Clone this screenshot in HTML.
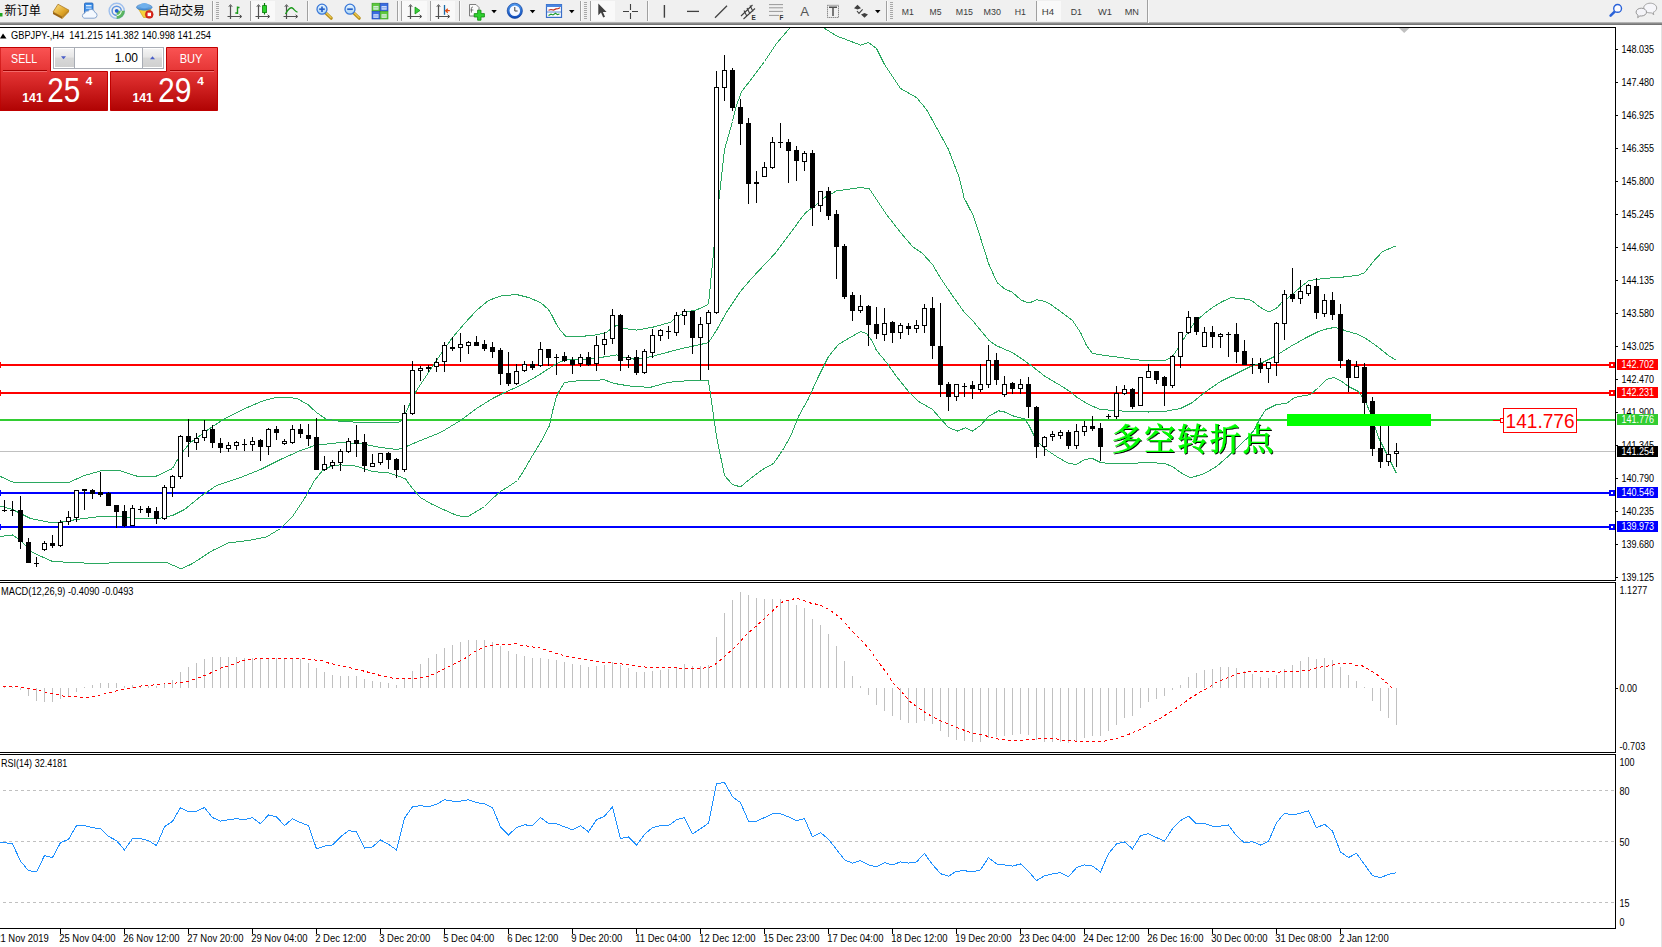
<!DOCTYPE html>
<html><head><meta charset="utf-8"><title>GBPJPY-,H4</title>
<style>
html,body{margin:0;padding:0;background:#fff;}
body{width:1662px;height:947px;position:relative;overflow:hidden;font-family:"Liberation Sans","Noto Sans CJK SC",sans-serif;}
#tb{position:absolute;left:0;top:0;width:1662px;height:22px;background:#f0f0f0;}
#tbl{position:absolute;left:0;top:22px;width:1662px;height:3px;background:linear-gradient(#c8c8c8,#8a8a8a 50%,#6a6a6a);}
</style></head><body>
<div id="tb"><!--TOOLBAR--></div><div id="tbl"></div>
<svg width="1662" height="947" viewBox="0 0 1662 947" style="position:absolute;left:0;top:0" shape-rendering="crispEdges">
<defs><clipPath id="cm"><rect x="0" y="28" width="1615" height="552"/></clipPath></defs>
<rect x="0" y="27" width="1616" height="1" fill="#000"/>
<rect x="0" y="580" width="1616" height="1" fill="#000"/>
<rect x="1615" y="27" width="1" height="554" fill="#000"/>
<rect x="0" y="582" width="1616" height="1" fill="#000"/>
<rect x="0" y="752" width="1616" height="1" fill="#000"/>
<rect x="1615" y="582" width="1" height="171" fill="#000"/>
<rect x="0" y="754" width="1616" height="1" fill="#000"/>
<rect x="0" y="928" width="1616" height="1" fill="#000"/>
<rect x="1615" y="754" width="1" height="175" fill="#000"/>
<g clip-path="url(#cm)">
<rect x="0" y="451" width="1615" height="1" fill="#c0c0c0"/>
<rect x="0" y="364" width="1615" height="2" fill="#ff0000"/>
<rect x="0" y="392" width="1615" height="2" fill="#ff0000"/>
<rect x="0" y="419" width="1615" height="2" fill="#32cd32"/>
<rect x="0" y="492" width="1615" height="2" fill="#0000ff"/>
<rect x="0" y="526" width="1615" height="2" fill="#0000ff"/>
<polyline points="0.5,476.5 12.5,482.0 40.5,482.9 68.5,482.5 84.5,475.5 100.5,470.9 120.5,470.9 136.5,476.0 156.5,476.0 172.5,468.5 180.5,454.5 190.5,442.5 212.5,426.5 225.5,418.3 247.5,407.4 264.0,400.5 275.0,397.8 286.0,397.2 297.0,398.5 307.9,404.5 316.2,412.3 325.8,418.9 338.1,421.0 360.5,422.5 396.5,422.9 402.5,420.5 408.5,406.5 416.5,390.5 428.5,372.5 440.5,354.5 452.5,337.5 464.5,323.5 476.5,310.5 488.5,300.5 500.5,296.1 516.5,294.5 528.5,297.5 540.5,302.5 548.5,309.5 552.5,316.5 556.5,324.5 560.5,330.5 565.5,336.1 580.5,336.5 596.5,334.9 606.5,332.5 612.5,327.5 616.5,325.5 624.5,328.5 636.5,330.1 652.5,327.3 670.5,322.3 676.5,317.3 684.5,312.3 696.5,309.9 708.5,304.5 716.5,221.5 724.5,149.5 732.5,121.5 736.5,105.5 741.5,91.9 752.5,77.5 764.5,61.5 776.5,43.5 788.5,29.5 796.5,21.5 806.5,18.5 816.5,22.5 821.5,26.5 836.5,35.9 860.5,45.1 868.5,42.5 876.5,48.5 884.5,64.5 900.5,88.5 916.5,97.5 926.5,109.5 936.5,127.5 948.5,149.5 958.5,175.5 962.5,190.5 964.0,197.7 973.6,216.4 976.6,225.4 981.5,241.1 988.7,263.9 997.1,282.6 1004.9,289.0 1012.1,292.2 1021.2,300.1 1029.0,303.1 1036.8,299.8 1044.1,301.3 1050.1,304.0 1060.5,311.5 1072.5,320.5 1080.5,332.5 1086.5,345.5 1092.5,353.5 1104.5,355.5 1120.5,357.5 1132.5,359.5 1148.5,360.8 1164.5,360.8 1172.5,356.5 1180.5,344.5 1186.5,334.5 1194.5,322.5 1204.5,313.5 1212.5,307.5 1220.5,302.5 1230.5,297.7 1241.5,298.5 1251.0,300.1 1260.5,307.5 1269.0,312.1 1277.5,307.5 1282.5,301.5 1290.5,296.1 1300.5,287.1 1308.5,280.8 1317.2,279.3 1329.2,278.1 1344.9,276.9 1358.1,275.3 1364.8,272.6 1372.5,262.4 1382.2,251.9 1389.5,248.5 1396.5,245.8" fill="none" stroke="#2aa860" stroke-width="1" />
<polyline points="0.5,506.1 12.5,509.5 30.5,518.5 50.5,522.5 60.5,522.1 80.5,518.9 100.5,516.5 120.5,516.5 136.5,518.5 156.5,518.9 172.5,515.5 184.5,509.5 200.5,496.5 216.5,485.5 240.5,477.5 260.5,469.5 280.5,459.5 300.5,450.5 316.5,444.9 332.5,443.5 340.5,442.5 360.5,443.5 380.5,447.5 396.5,449.5 402.5,448.5 408.5,445.5 420.5,440.5 440.5,432.5 460.5,420.5 476.5,408.5 492.5,398.5 504.5,392.5 520.5,385.5 536.5,376.5 550.5,367.5 560.5,361.5 568.5,359.5 584.5,359.5 600.5,357.5 616.5,354.9 624.5,357.5 636.5,359.5 652.5,356.3 678.5,349.3 708.5,342.7 716.5,330.3 726.5,312.4 740.5,291.4 752.5,277.4 768.5,260.4 775.5,253.0 790.5,233.0 800.5,219.2 806.5,211.8 813.0,207.4 824.5,197.5 836.5,190.9 860.5,187.5 869.5,188.9 876.5,199.5 886.5,214.5 900.5,232.5 912.5,246.5 922.5,253.5 932.5,264.5 940.5,278.0 948.9,290.5 958.0,303.5 964.5,312.5 972.5,320.5 989.1,340.5 996.1,345.5 1012.1,352.5 1024.1,360.5 1032.5,366.5 1044.5,376.0 1060.5,385.5 1070.5,391.8 1076.5,397.0 1088.5,404.5 1100.5,409.5 1114.5,410.5 1128.5,411.5 1148.5,412.0 1164.5,411.5 1180.5,408.5 1192.5,402.5 1204.5,392.5 1220.5,381.5 1236.5,373.5 1250.5,366.5 1262.5,362.5 1274.5,356.5 1290.5,346.5 1306.5,337.5 1318.5,331.5 1326.5,329.0 1334.0,327.5 1338.9,328.3 1346.1,331.0 1356.9,334.0 1365.4,338.3 1374.5,344.5 1378.5,347.5 1388.5,355.5 1396.5,360.5" fill="none" stroke="#2aa860" stroke-width="1" />
<polyline points="0.5,536.5 12.5,534.9 20.5,540.5 32.5,552.5 52.5,561.5 80.5,562.9 100.5,563.5 124.5,562.1 144.5,562.5 166.5,562.5 181.5,568.9 192.5,563.5 212.5,550.5 228.5,542.9 248.5,540.5 266.5,536.9 280.5,528.5 292.5,516.5 304.5,498.5 314.5,480.5 322.5,470.5 332.5,465.5 340.5,464.9 356.5,466.1 372.5,471.5 388.5,472.9 400.5,476.9 405.5,478.9 412.5,488.5 420.5,497.5 430.5,503.5 442.5,509.1 454.5,514.5 460.5,516.1 468.5,516.1 476.5,511.5 484.5,506.5 492.5,498.5 500.5,491.5 508.5,486.5 517.5,480.5 524.5,469.5 532.5,455.5 540.5,442.5 549.5,425.5 552.5,411.5 556.5,396.5 558.5,392.5 564.5,382.5 580.5,380.5 604.5,379.9 614.5,383.5 632.5,386.5 650.5,387.3 668.5,382.3 692.5,380.3 708.5,380.9 716.5,436.5 724.5,475.5 732.5,484.5 740.5,486.9 750.5,478.5 762.5,469.5 773.5,463.5 782.5,450.5 790.5,436.5 798.5,416.5 808.5,398.5 818.5,376.5 828.5,356.5 838.5,344.5 850.5,337.3 860.5,331.7 866.5,333.3 872.5,341.5 876.5,350.5 886.5,362.5 896.5,376.5 908.5,391.5 918.5,401.5 932.5,409.5 940.5,418.5 948.5,427.5 957.5,431.0 965.5,427.8 972.5,431.0 980.5,425.5 988.5,416.5 998.5,410.8 1004.5,412.0 1014.5,416.5 1024.5,418.8 1028.5,424.5 1036.5,440.5 1044.5,448.5 1056.5,456.5 1068.5,463.5 1076.5,464.5 1084.5,459.5 1092.5,458.5 1100.5,462.5 1112.5,463.9 1128.5,463.5 1148.5,462.5 1164.5,463.5 1172.5,466.5 1180.5,472.5 1190.5,477.9 1204.5,473.5 1216.5,466.5 1228.5,456.0 1240.5,444.5 1248.5,437.0 1254.5,429.5 1260.0,418.5 1265.5,410.0 1276.5,404.5 1286.5,403.5 1294.5,397.5 1310.5,394.5 1318.5,387.5 1326.5,379.5 1333.5,377.5 1340.5,380.5 1348.5,386.5 1358.5,391.5 1365.5,401.5 1370.5,413.5 1378.5,437.5 1388.5,457.5 1396.5,473.5" fill="none" stroke="#2aa860" stroke-width="1" />
<rect x="4" y="500" width="1" height="12" fill="#000"/>
<rect x="2" y="510" width="5" height="1" fill="#000"/>
<rect x="12" y="501" width="1" height="15" fill="#000"/>
<rect x="10" y="510" width="5" height="1" fill="#000"/>
<rect x="20" y="496" width="1" height="53" fill="#000"/>
<rect x="18" y="510" width="5" height="32" fill="#000"/>
<rect x="28" y="538" width="1" height="25" fill="#000"/>
<rect x="26" y="542" width="5" height="21" fill="#000"/>
<rect x="36" y="557" width="1" height="10" fill="#000"/>
<rect x="34" y="563" width="5" height="1" fill="#000"/>
<rect x="44" y="541" width="1" height="10" fill="#000"/>
<rect x="42" y="543" width="5" height="7" fill="#000"/>
<rect x="43" y="544" width="3" height="5" fill="#fff"/>
<rect x="52" y="535" width="1" height="13" fill="#000"/>
<rect x="50" y="543" width="5" height="3" fill="#000"/>
<rect x="60" y="520" width="1" height="27" fill="#000"/>
<rect x="58" y="522" width="5" height="24" fill="#000"/>
<rect x="59" y="523" width="3" height="22" fill="#fff"/>
<rect x="68" y="511" width="1" height="14" fill="#000"/>
<rect x="66" y="517" width="5" height="5" fill="#000"/>
<rect x="67" y="518" width="3" height="3" fill="#fff"/>
<rect x="76" y="490" width="1" height="32" fill="#000"/>
<rect x="74" y="490" width="5" height="28" fill="#000"/>
<rect x="75" y="491" width="3" height="26" fill="#fff"/>
<rect x="84" y="489" width="1" height="21" fill="#000"/>
<rect x="82" y="489" width="5" height="2" fill="#000"/>
<rect x="92" y="489" width="1" height="10" fill="#000"/>
<rect x="90" y="490" width="5" height="4" fill="#000"/>
<rect x="100" y="472" width="1" height="25" fill="#000"/>
<rect x="98" y="492" width="5" height="3" fill="#000"/>
<rect x="108" y="492" width="1" height="14" fill="#000"/>
<rect x="106" y="493" width="5" height="13" fill="#000"/>
<rect x="116" y="505" width="1" height="23" fill="#000"/>
<rect x="114" y="505" width="5" height="7" fill="#000"/>
<rect x="124" y="505" width="1" height="22" fill="#000"/>
<rect x="122" y="511" width="5" height="15" fill="#000"/>
<rect x="132" y="505" width="1" height="21" fill="#000"/>
<rect x="130" y="508" width="5" height="18" fill="#000"/>
<rect x="131" y="509" width="3" height="16" fill="#fff"/>
<rect x="140" y="506" width="1" height="7" fill="#000"/>
<rect x="138" y="509" width="5" height="1" fill="#000"/>
<rect x="148" y="506" width="1" height="11" fill="#000"/>
<rect x="146" y="508" width="5" height="5" fill="#000"/>
<rect x="156" y="507" width="1" height="17" fill="#000"/>
<rect x="154" y="511" width="5" height="8" fill="#000"/>
<rect x="164" y="485" width="1" height="35" fill="#000"/>
<rect x="162" y="487" width="5" height="32" fill="#000"/>
<rect x="163" y="488" width="3" height="30" fill="#fff"/>
<rect x="172" y="475" width="1" height="22" fill="#000"/>
<rect x="170" y="476" width="5" height="12" fill="#000"/>
<rect x="171" y="477" width="3" height="10" fill="#fff"/>
<rect x="180" y="435" width="1" height="44" fill="#000"/>
<rect x="178" y="436" width="5" height="41" fill="#000"/>
<rect x="179" y="437" width="3" height="39" fill="#fff"/>
<rect x="188" y="419" width="1" height="38" fill="#000"/>
<rect x="186" y="436" width="5" height="6" fill="#000"/>
<rect x="196" y="433" width="1" height="17" fill="#000"/>
<rect x="194" y="438" width="5" height="5" fill="#000"/>
<rect x="195" y="439" width="3" height="3" fill="#fff"/>
<rect x="204" y="420" width="1" height="21" fill="#000"/>
<rect x="202" y="430" width="5" height="8" fill="#000"/>
<rect x="203" y="431" width="3" height="6" fill="#fff"/>
<rect x="212" y="425" width="1" height="23" fill="#000"/>
<rect x="210" y="429" width="5" height="14" fill="#000"/>
<rect x="220" y="438" width="1" height="15" fill="#000"/>
<rect x="218" y="443" width="5" height="5" fill="#000"/>
<rect x="228" y="442" width="1" height="10" fill="#000"/>
<rect x="226" y="445" width="5" height="4" fill="#000"/>
<rect x="227" y="446" width="3" height="2" fill="#fff"/>
<rect x="236" y="441" width="1" height="9" fill="#000"/>
<rect x="234" y="442" width="5" height="4" fill="#000"/>
<rect x="235" y="443" width="3" height="2" fill="#fff"/>
<rect x="244" y="439" width="1" height="12" fill="#000"/>
<rect x="242" y="444" width="5" height="1" fill="#000"/>
<rect x="252" y="437" width="1" height="14" fill="#000"/>
<rect x="250" y="441" width="5" height="4" fill="#000"/>
<rect x="251" y="442" width="3" height="2" fill="#fff"/>
<rect x="260" y="439" width="1" height="22" fill="#000"/>
<rect x="258" y="440" width="5" height="7" fill="#000"/>
<rect x="268" y="428" width="1" height="27" fill="#000"/>
<rect x="266" y="429" width="5" height="18" fill="#000"/>
<rect x="267" y="430" width="3" height="16" fill="#fff"/>
<rect x="276" y="426" width="1" height="14" fill="#000"/>
<rect x="274" y="429" width="5" height="4" fill="#000"/>
<rect x="284" y="439" width="1" height="6" fill="#000"/>
<rect x="282" y="441" width="5" height="3" fill="#000"/>
<rect x="283" y="442" width="3" height="1" fill="#fff"/>
<rect x="292" y="425" width="1" height="19" fill="#000"/>
<rect x="290" y="429" width="5" height="14" fill="#000"/>
<rect x="291" y="430" width="3" height="12" fill="#fff"/>
<rect x="300" y="424" width="1" height="14" fill="#000"/>
<rect x="298" y="429" width="5" height="5" fill="#000"/>
<rect x="308" y="424" width="1" height="22" fill="#000"/>
<rect x="306" y="435" width="5" height="4" fill="#000"/>
<rect x="316" y="418" width="1" height="52" fill="#000"/>
<rect x="314" y="437" width="5" height="33" fill="#000"/>
<rect x="324" y="456" width="1" height="15" fill="#000"/>
<rect x="322" y="464" width="5" height="6" fill="#000"/>
<rect x="323" y="465" width="3" height="4" fill="#fff"/>
<rect x="332" y="460" width="1" height="9" fill="#000"/>
<rect x="330" y="462" width="5" height="4" fill="#000"/>
<rect x="331" y="463" width="3" height="2" fill="#fff"/>
<rect x="340" y="449" width="1" height="22" fill="#000"/>
<rect x="338" y="451" width="5" height="12" fill="#000"/>
<rect x="339" y="452" width="3" height="10" fill="#fff"/>
<rect x="348" y="438" width="1" height="15" fill="#000"/>
<rect x="346" y="441" width="5" height="11" fill="#000"/>
<rect x="347" y="442" width="3" height="9" fill="#fff"/>
<rect x="356" y="425" width="1" height="32" fill="#000"/>
<rect x="354" y="440" width="5" height="4" fill="#000"/>
<rect x="364" y="434" width="1" height="38" fill="#000"/>
<rect x="362" y="442" width="5" height="24" fill="#000"/>
<rect x="372" y="454" width="1" height="13" fill="#000"/>
<rect x="370" y="463" width="5" height="4" fill="#000"/>
<rect x="371" y="464" width="3" height="2" fill="#fff"/>
<rect x="380" y="453" width="1" height="12" fill="#000"/>
<rect x="378" y="453" width="5" height="10" fill="#000"/>
<rect x="379" y="454" width="3" height="8" fill="#fff"/>
<rect x="388" y="452" width="1" height="17" fill="#000"/>
<rect x="386" y="453" width="5" height="7" fill="#000"/>
<rect x="396" y="458" width="1" height="20" fill="#000"/>
<rect x="394" y="459" width="5" height="11" fill="#000"/>
<rect x="404" y="405" width="1" height="67" fill="#000"/>
<rect x="402" y="413" width="5" height="57" fill="#000"/>
<rect x="403" y="414" width="3" height="55" fill="#fff"/>
<rect x="412" y="361" width="1" height="54" fill="#000"/>
<rect x="410" y="370" width="5" height="44" fill="#000"/>
<rect x="411" y="371" width="3" height="42" fill="#fff"/>
<rect x="420" y="366" width="1" height="15" fill="#000"/>
<rect x="418" y="368" width="5" height="3" fill="#000"/>
<rect x="419" y="369" width="3" height="1" fill="#fff"/>
<rect x="428" y="365" width="1" height="7" fill="#000"/>
<rect x="426" y="367" width="5" height="2" fill="#000"/>
<rect x="436" y="358" width="1" height="14" fill="#000"/>
<rect x="434" y="362" width="5" height="5" fill="#000"/>
<rect x="435" y="363" width="3" height="3" fill="#fff"/>
<rect x="444" y="342" width="1" height="30" fill="#000"/>
<rect x="442" y="345" width="5" height="17" fill="#000"/>
<rect x="443" y="346" width="3" height="15" fill="#fff"/>
<rect x="452" y="337" width="1" height="14" fill="#000"/>
<rect x="450" y="347" width="5" height="2" fill="#000"/>
<rect x="460" y="333" width="1" height="29" fill="#000"/>
<rect x="458" y="344" width="5" height="4" fill="#000"/>
<rect x="459" y="345" width="3" height="2" fill="#fff"/>
<rect x="468" y="341" width="1" height="13" fill="#000"/>
<rect x="466" y="342" width="5" height="4" fill="#000"/>
<rect x="467" y="343" width="3" height="2" fill="#fff"/>
<rect x="476" y="336" width="1" height="9" fill="#000"/>
<rect x="474" y="342" width="5" height="4" fill="#000"/>
<rect x="484" y="340" width="1" height="11" fill="#000"/>
<rect x="482" y="344" width="5" height="5" fill="#000"/>
<rect x="492" y="342" width="1" height="16" fill="#000"/>
<rect x="490" y="347" width="5" height="5" fill="#000"/>
<rect x="500" y="348" width="1" height="37" fill="#000"/>
<rect x="498" y="350" width="5" height="24" fill="#000"/>
<rect x="508" y="352" width="1" height="34" fill="#000"/>
<rect x="506" y="373" width="5" height="11" fill="#000"/>
<rect x="516" y="364" width="1" height="21" fill="#000"/>
<rect x="514" y="371" width="5" height="13" fill="#000"/>
<rect x="515" y="372" width="3" height="11" fill="#fff"/>
<rect x="524" y="361" width="1" height="11" fill="#000"/>
<rect x="522" y="364" width="5" height="7" fill="#000"/>
<rect x="523" y="365" width="3" height="5" fill="#fff"/>
<rect x="532" y="361" width="1" height="9" fill="#000"/>
<rect x="530" y="364" width="5" height="4" fill="#000"/>
<rect x="540" y="342" width="1" height="25" fill="#000"/>
<rect x="538" y="349" width="5" height="17" fill="#000"/>
<rect x="539" y="350" width="3" height="15" fill="#fff"/>
<rect x="548" y="349" width="1" height="17" fill="#000"/>
<rect x="546" y="349" width="5" height="9" fill="#000"/>
<rect x="556" y="354" width="1" height="21" fill="#000"/>
<rect x="554" y="357" width="5" height="1" fill="#000"/>
<rect x="564" y="352" width="1" height="10" fill="#000"/>
<rect x="562" y="356" width="5" height="5" fill="#000"/>
<rect x="572" y="357" width="1" height="17" fill="#000"/>
<rect x="570" y="360" width="5" height="5" fill="#000"/>
<rect x="580" y="354" width="1" height="13" fill="#000"/>
<rect x="578" y="357" width="5" height="7" fill="#000"/>
<rect x="579" y="358" width="3" height="5" fill="#fff"/>
<rect x="588" y="352" width="1" height="14" fill="#000"/>
<rect x="586" y="357" width="5" height="8" fill="#000"/>
<rect x="596" y="336" width="1" height="35" fill="#000"/>
<rect x="594" y="345" width="5" height="19" fill="#000"/>
<rect x="595" y="346" width="3" height="17" fill="#fff"/>
<rect x="604" y="332" width="1" height="23" fill="#000"/>
<rect x="602" y="339" width="5" height="6" fill="#000"/>
<rect x="603" y="340" width="3" height="4" fill="#fff"/>
<rect x="612" y="309" width="1" height="35" fill="#000"/>
<rect x="610" y="315" width="5" height="24" fill="#000"/>
<rect x="611" y="316" width="3" height="22" fill="#fff"/>
<rect x="620" y="314" width="1" height="57" fill="#000"/>
<rect x="618" y="315" width="5" height="46" fill="#000"/>
<rect x="628" y="355" width="1" height="13" fill="#000"/>
<rect x="626" y="357" width="5" height="3" fill="#000"/>
<rect x="627" y="358" width="3" height="1" fill="#fff"/>
<rect x="636" y="350" width="1" height="25" fill="#000"/>
<rect x="634" y="357" width="5" height="16" fill="#000"/>
<rect x="644" y="349" width="1" height="25" fill="#000"/>
<rect x="642" y="351" width="5" height="22" fill="#000"/>
<rect x="643" y="352" width="3" height="20" fill="#fff"/>
<rect x="652" y="329" width="1" height="29" fill="#000"/>
<rect x="650" y="335" width="5" height="18" fill="#000"/>
<rect x="651" y="336" width="3" height="16" fill="#fff"/>
<rect x="660" y="329" width="1" height="12" fill="#000"/>
<rect x="658" y="330" width="5" height="6" fill="#000"/>
<rect x="659" y="331" width="3" height="4" fill="#fff"/>
<rect x="668" y="326" width="1" height="13" fill="#000"/>
<rect x="666" y="331" width="5" height="1" fill="#000"/>
<rect x="676" y="312" width="1" height="24" fill="#000"/>
<rect x="674" y="315" width="5" height="18" fill="#000"/>
<rect x="675" y="316" width="3" height="16" fill="#fff"/>
<rect x="684" y="309" width="1" height="16" fill="#000"/>
<rect x="682" y="311" width="5" height="5" fill="#000"/>
<rect x="683" y="312" width="3" height="3" fill="#fff"/>
<rect x="692" y="311" width="1" height="43" fill="#000"/>
<rect x="690" y="311" width="5" height="27" fill="#000"/>
<rect x="700" y="317" width="1" height="63" fill="#000"/>
<rect x="698" y="324" width="5" height="14" fill="#000"/>
<rect x="699" y="325" width="3" height="12" fill="#fff"/>
<rect x="708" y="310" width="1" height="60" fill="#000"/>
<rect x="706" y="312" width="5" height="12" fill="#000"/>
<rect x="707" y="313" width="3" height="10" fill="#fff"/>
<rect x="716" y="71" width="1" height="243" fill="#000"/>
<rect x="714" y="87" width="5" height="226" fill="#000"/>
<rect x="715" y="88" width="3" height="224" fill="#fff"/>
<rect x="724" y="55" width="1" height="46" fill="#000"/>
<rect x="722" y="70" width="5" height="18" fill="#000"/>
<rect x="723" y="71" width="3" height="16" fill="#fff"/>
<rect x="732" y="68" width="1" height="43" fill="#000"/>
<rect x="730" y="70" width="5" height="38" fill="#000"/>
<rect x="740" y="99" width="1" height="46" fill="#000"/>
<rect x="738" y="107" width="5" height="17" fill="#000"/>
<rect x="748" y="118" width="1" height="86" fill="#000"/>
<rect x="746" y="123" width="5" height="61" fill="#000"/>
<rect x="756" y="171" width="1" height="32" fill="#000"/>
<rect x="754" y="182" width="5" height="2" fill="#000"/>
<rect x="764" y="162" width="1" height="15" fill="#000"/>
<rect x="762" y="167" width="5" height="10" fill="#000"/>
<rect x="763" y="168" width="3" height="8" fill="#fff"/>
<rect x="772" y="137" width="1" height="32" fill="#000"/>
<rect x="770" y="142" width="5" height="26" fill="#000"/>
<rect x="771" y="143" width="3" height="24" fill="#fff"/>
<rect x="780" y="123" width="1" height="25" fill="#000"/>
<rect x="778" y="142" width="5" height="1" fill="#000"/>
<rect x="788" y="139" width="1" height="44" fill="#000"/>
<rect x="786" y="142" width="5" height="9" fill="#000"/>
<rect x="796" y="146" width="1" height="35" fill="#000"/>
<rect x="794" y="150" width="5" height="11" fill="#000"/>
<rect x="804" y="151" width="1" height="20" fill="#000"/>
<rect x="802" y="153" width="5" height="9" fill="#000"/>
<rect x="803" y="154" width="3" height="7" fill="#fff"/>
<rect x="812" y="150" width="1" height="76" fill="#000"/>
<rect x="810" y="153" width="5" height="55" fill="#000"/>
<rect x="820" y="191" width="1" height="21" fill="#000"/>
<rect x="818" y="191" width="5" height="15" fill="#000"/>
<rect x="819" y="192" width="3" height="13" fill="#fff"/>
<rect x="828" y="187" width="1" height="33" fill="#000"/>
<rect x="826" y="191" width="5" height="25" fill="#000"/>
<rect x="836" y="210" width="1" height="69" fill="#000"/>
<rect x="834" y="214" width="5" height="33" fill="#000"/>
<rect x="844" y="244" width="1" height="55" fill="#000"/>
<rect x="842" y="246" width="5" height="51" fill="#000"/>
<rect x="852" y="292" width="1" height="29" fill="#000"/>
<rect x="850" y="295" width="5" height="16" fill="#000"/>
<rect x="860" y="295" width="1" height="18" fill="#000"/>
<rect x="858" y="306" width="5" height="5" fill="#000"/>
<rect x="859" y="307" width="3" height="3" fill="#fff"/>
<rect x="868" y="305" width="1" height="41" fill="#000"/>
<rect x="866" y="306" width="5" height="19" fill="#000"/>
<rect x="876" y="307" width="1" height="32" fill="#000"/>
<rect x="874" y="324" width="5" height="10" fill="#000"/>
<rect x="884" y="308" width="1" height="33" fill="#000"/>
<rect x="882" y="323" width="5" height="12" fill="#000"/>
<rect x="883" y="324" width="3" height="10" fill="#fff"/>
<rect x="892" y="321" width="1" height="22" fill="#000"/>
<rect x="890" y="322" width="5" height="11" fill="#000"/>
<rect x="900" y="323" width="1" height="16" fill="#000"/>
<rect x="898" y="325" width="5" height="8" fill="#000"/>
<rect x="899" y="326" width="3" height="6" fill="#fff"/>
<rect x="908" y="323" width="1" height="12" fill="#000"/>
<rect x="906" y="326" width="5" height="3" fill="#000"/>
<rect x="916" y="320" width="1" height="13" fill="#000"/>
<rect x="914" y="325" width="5" height="4" fill="#000"/>
<rect x="915" y="326" width="3" height="2" fill="#fff"/>
<rect x="924" y="304" width="1" height="29" fill="#000"/>
<rect x="922" y="308" width="5" height="18" fill="#000"/>
<rect x="923" y="309" width="3" height="16" fill="#fff"/>
<rect x="932" y="297" width="1" height="62" fill="#000"/>
<rect x="930" y="308" width="5" height="38" fill="#000"/>
<rect x="940" y="303" width="1" height="94" fill="#000"/>
<rect x="938" y="346" width="5" height="39" fill="#000"/>
<rect x="948" y="382" width="1" height="29" fill="#000"/>
<rect x="946" y="384" width="5" height="13" fill="#000"/>
<rect x="956" y="384" width="1" height="17" fill="#000"/>
<rect x="954" y="384" width="5" height="13" fill="#000"/>
<rect x="955" y="385" width="3" height="11" fill="#fff"/>
<rect x="964" y="383" width="1" height="14" fill="#000"/>
<rect x="962" y="386" width="5" height="1" fill="#000"/>
<rect x="972" y="381" width="1" height="18" fill="#000"/>
<rect x="970" y="385" width="5" height="4" fill="#000"/>
<rect x="980" y="364" width="1" height="28" fill="#000"/>
<rect x="978" y="384" width="5" height="6" fill="#000"/>
<rect x="979" y="385" width="3" height="4" fill="#fff"/>
<rect x="988" y="345" width="1" height="43" fill="#000"/>
<rect x="986" y="360" width="5" height="25" fill="#000"/>
<rect x="987" y="361" width="3" height="23" fill="#fff"/>
<rect x="996" y="353" width="1" height="32" fill="#000"/>
<rect x="994" y="360" width="5" height="20" fill="#000"/>
<rect x="1004" y="376" width="1" height="21" fill="#000"/>
<rect x="1002" y="384" width="5" height="11" fill="#000"/>
<rect x="1003" y="385" width="3" height="9" fill="#fff"/>
<rect x="1012" y="382" width="1" height="12" fill="#000"/>
<rect x="1010" y="383" width="5" height="6" fill="#000"/>
<rect x="1020" y="379" width="1" height="15" fill="#000"/>
<rect x="1018" y="384" width="5" height="5" fill="#000"/>
<rect x="1019" y="385" width="3" height="3" fill="#fff"/>
<rect x="1028" y="377" width="1" height="41" fill="#000"/>
<rect x="1026" y="384" width="5" height="23" fill="#000"/>
<rect x="1036" y="406" width="1" height="52" fill="#000"/>
<rect x="1034" y="407" width="5" height="40" fill="#000"/>
<rect x="1044" y="436" width="1" height="20" fill="#000"/>
<rect x="1042" y="437" width="5" height="10" fill="#000"/>
<rect x="1043" y="438" width="3" height="8" fill="#fff"/>
<rect x="1052" y="431" width="1" height="10" fill="#000"/>
<rect x="1050" y="434" width="5" height="3" fill="#000"/>
<rect x="1051" y="435" width="3" height="1" fill="#fff"/>
<rect x="1060" y="430" width="1" height="9" fill="#000"/>
<rect x="1058" y="432" width="5" height="4" fill="#000"/>
<rect x="1059" y="433" width="3" height="2" fill="#fff"/>
<rect x="1068" y="430" width="1" height="19" fill="#000"/>
<rect x="1066" y="432" width="5" height="14" fill="#000"/>
<rect x="1076" y="424" width="1" height="25" fill="#000"/>
<rect x="1074" y="431" width="5" height="15" fill="#000"/>
<rect x="1075" y="432" width="3" height="13" fill="#fff"/>
<rect x="1084" y="421" width="1" height="15" fill="#000"/>
<rect x="1082" y="426" width="5" height="6" fill="#000"/>
<rect x="1083" y="427" width="3" height="4" fill="#fff"/>
<rect x="1092" y="416" width="1" height="15" fill="#000"/>
<rect x="1090" y="426" width="5" height="3" fill="#000"/>
<rect x="1100" y="423" width="1" height="38" fill="#000"/>
<rect x="1098" y="428" width="5" height="19" fill="#000"/>
<rect x="1108" y="414" width="1" height="5" fill="#000"/>
<rect x="1106" y="416" width="5" height="1" fill="#000"/>
<rect x="1116" y="386" width="1" height="33" fill="#000"/>
<rect x="1114" y="393" width="5" height="24" fill="#000"/>
<rect x="1115" y="394" width="3" height="22" fill="#fff"/>
<rect x="1124" y="385" width="1" height="10" fill="#000"/>
<rect x="1122" y="389" width="5" height="5" fill="#000"/>
<rect x="1123" y="390" width="3" height="3" fill="#fff"/>
<rect x="1132" y="388" width="1" height="21" fill="#000"/>
<rect x="1130" y="389" width="5" height="18" fill="#000"/>
<rect x="1140" y="377" width="1" height="28" fill="#000"/>
<rect x="1138" y="377" width="5" height="29" fill="#000"/>
<rect x="1139" y="378" width="3" height="27" fill="#fff"/>
<rect x="1148" y="364" width="1" height="13" fill="#000"/>
<rect x="1146" y="371" width="5" height="7" fill="#000"/>
<rect x="1147" y="372" width="3" height="5" fill="#fff"/>
<rect x="1156" y="371" width="1" height="13" fill="#000"/>
<rect x="1154" y="371" width="5" height="9" fill="#000"/>
<rect x="1164" y="376" width="1" height="30" fill="#000"/>
<rect x="1162" y="377" width="5" height="9" fill="#000"/>
<rect x="1172" y="355" width="1" height="33" fill="#000"/>
<rect x="1170" y="356" width="5" height="30" fill="#000"/>
<rect x="1171" y="357" width="3" height="28" fill="#fff"/>
<rect x="1180" y="332" width="1" height="36" fill="#000"/>
<rect x="1178" y="332" width="5" height="25" fill="#000"/>
<rect x="1179" y="333" width="3" height="23" fill="#fff"/>
<rect x="1188" y="311" width="1" height="23" fill="#000"/>
<rect x="1186" y="317" width="5" height="16" fill="#000"/>
<rect x="1187" y="318" width="3" height="14" fill="#fff"/>
<rect x="1196" y="317" width="1" height="18" fill="#000"/>
<rect x="1194" y="317" width="5" height="15" fill="#000"/>
<rect x="1204" y="327" width="1" height="19" fill="#000"/>
<rect x="1202" y="332" width="5" height="15" fill="#000"/>
<rect x="1203" y="333" width="3" height="13" fill="#fff"/>
<rect x="1212" y="326" width="1" height="22" fill="#000"/>
<rect x="1210" y="332" width="5" height="5" fill="#000"/>
<rect x="1220" y="333" width="1" height="15" fill="#000"/>
<rect x="1218" y="334" width="5" height="3" fill="#000"/>
<rect x="1219" y="335" width="3" height="1" fill="#fff"/>
<rect x="1228" y="332" width="1" height="25" fill="#000"/>
<rect x="1226" y="334" width="5" height="1" fill="#000"/>
<rect x="1236" y="323" width="1" height="40" fill="#000"/>
<rect x="1234" y="334" width="5" height="18" fill="#000"/>
<rect x="1244" y="340" width="1" height="25" fill="#000"/>
<rect x="1242" y="351" width="5" height="14" fill="#000"/>
<rect x="1252" y="358" width="1" height="16" fill="#000"/>
<rect x="1250" y="364" width="5" height="1" fill="#000"/>
<rect x="1260" y="358" width="1" height="15" fill="#000"/>
<rect x="1258" y="363" width="5" height="6" fill="#000"/>
<rect x="1268" y="362" width="1" height="21" fill="#000"/>
<rect x="1266" y="362" width="5" height="7" fill="#000"/>
<rect x="1267" y="363" width="3" height="5" fill="#fff"/>
<rect x="1276" y="322" width="1" height="54" fill="#000"/>
<rect x="1274" y="323" width="5" height="40" fill="#000"/>
<rect x="1275" y="324" width="3" height="38" fill="#fff"/>
<rect x="1284" y="290" width="1" height="50" fill="#000"/>
<rect x="1282" y="294" width="5" height="30" fill="#000"/>
<rect x="1283" y="295" width="3" height="28" fill="#fff"/>
<rect x="1292" y="268" width="1" height="34" fill="#000"/>
<rect x="1290" y="294" width="5" height="5" fill="#000"/>
<rect x="1300" y="280" width="1" height="24" fill="#000"/>
<rect x="1298" y="291" width="5" height="8" fill="#000"/>
<rect x="1299" y="292" width="3" height="6" fill="#fff"/>
<rect x="1308" y="284" width="1" height="12" fill="#000"/>
<rect x="1306" y="285" width="5" height="9" fill="#000"/>
<rect x="1307" y="286" width="3" height="7" fill="#fff"/>
<rect x="1316" y="278" width="1" height="41" fill="#000"/>
<rect x="1314" y="286" width="5" height="27" fill="#000"/>
<rect x="1324" y="294" width="1" height="23" fill="#000"/>
<rect x="1322" y="300" width="5" height="14" fill="#000"/>
<rect x="1323" y="301" width="3" height="12" fill="#fff"/>
<rect x="1332" y="292" width="1" height="28" fill="#000"/>
<rect x="1330" y="300" width="5" height="15" fill="#000"/>
<rect x="1340" y="304" width="1" height="64" fill="#000"/>
<rect x="1338" y="314" width="5" height="47" fill="#000"/>
<rect x="1348" y="359" width="1" height="33" fill="#000"/>
<rect x="1346" y="360" width="5" height="18" fill="#000"/>
<rect x="1356" y="361" width="1" height="16" fill="#000"/>
<rect x="1354" y="366" width="5" height="12" fill="#000"/>
<rect x="1355" y="367" width="3" height="10" fill="#fff"/>
<rect x="1364" y="363" width="1" height="51" fill="#000"/>
<rect x="1362" y="367" width="5" height="36" fill="#000"/>
<rect x="1372" y="397" width="1" height="59" fill="#000"/>
<rect x="1370" y="401" width="5" height="48" fill="#000"/>
<rect x="1380" y="426" width="1" height="42" fill="#000"/>
<rect x="1378" y="448" width="5" height="14" fill="#000"/>
<rect x="1388" y="426" width="1" height="40" fill="#000"/>
<rect x="1386" y="454" width="5" height="8" fill="#000"/>
<rect x="1387" y="455" width="3" height="6" fill="#fff"/>
<rect x="1396" y="443" width="1" height="24" fill="#000"/>
<rect x="1394" y="451" width="5" height="3" fill="#000"/>
<rect x="1395" y="452" width="3" height="1" fill="#fff"/>
<rect x="1287" y="414" width="144" height="12" fill="#00ff00"/>
</g>
<rect x="1609" y="362" width="6" height="6" fill="#ff0000"/><rect x="1611" y="364" width="2" height="2" fill="#fff"/>
<rect x="0" y="362" width="1" height="6" fill="#ff0000"/>
<rect x="1609" y="390" width="6" height="6" fill="#ff0000"/><rect x="1611" y="392" width="2" height="2" fill="#fff"/>
<rect x="0" y="390" width="1" height="6" fill="#ff0000"/>
<rect x="1609" y="490" width="6" height="6" fill="#0000ff"/><rect x="1611" y="492" width="2" height="2" fill="#fff"/>
<rect x="0" y="490" width="1" height="6" fill="#0000ff"/>
<rect x="1609" y="524" width="6" height="6" fill="#0000ff"/><rect x="1611" y="526" width="2" height="2" fill="#fff"/>
<rect x="0" y="524" width="1" height="6" fill="#0000ff"/>
<rect x="1493" y="420" width="7" height="1" fill="#ff0000"/>
<rect x="1500" y="418" width="4" height="5" fill="#fff" stroke="none"/><rect x="1500.5" y="418.5" width="3" height="4" fill="#fff" stroke="#ff0000"/>
<rect x="1503.5" y="408.5" width="73" height="24" fill="#fff" stroke="#ff0000" stroke-width="1"/>
<polygon points="1399,28 1409.5,28 1404.2,33" fill="#c0c0c0" shape-rendering="auto"/>
<rect x="4" y="687" width="1" height="1" fill="#c0c0c0"/>
<rect x="12" y="687" width="1" height="1" fill="#c0c0c0"/>
<rect x="20" y="688" width="1" height="2" fill="#c0c0c0"/>
<rect x="28" y="688" width="1" height="8" fill="#c0c0c0"/>
<rect x="36" y="688" width="1" height="13" fill="#c0c0c0"/>
<rect x="44" y="688" width="1" height="14" fill="#c0c0c0"/>
<rect x="52" y="688" width="1" height="14" fill="#c0c0c0"/>
<rect x="60" y="688" width="1" height="11" fill="#c0c0c0"/>
<rect x="68" y="688" width="1" height="8" fill="#c0c0c0"/>
<rect x="76" y="688" width="1" height="4" fill="#c0c0c0"/>
<rect x="84" y="687" width="1" height="1" fill="#c0c0c0"/>
<rect x="92" y="685" width="1" height="3" fill="#c0c0c0"/>
<rect x="100" y="683" width="1" height="5" fill="#c0c0c0"/>
<rect x="108" y="683" width="1" height="5" fill="#c0c0c0"/>
<rect x="116" y="683" width="1" height="5" fill="#c0c0c0"/>
<rect x="124" y="686" width="1" height="2" fill="#c0c0c0"/>
<rect x="132" y="685" width="1" height="3" fill="#c0c0c0"/>
<rect x="140" y="686" width="1" height="2" fill="#c0c0c0"/>
<rect x="148" y="686" width="1" height="2" fill="#c0c0c0"/>
<rect x="156" y="686" width="1" height="2" fill="#c0c0c0"/>
<rect x="164" y="683" width="1" height="5" fill="#c0c0c0"/>
<rect x="172" y="680" width="1" height="8" fill="#c0c0c0"/>
<rect x="180" y="672" width="1" height="16" fill="#c0c0c0"/>
<rect x="188" y="667" width="1" height="21" fill="#c0c0c0"/>
<rect x="196" y="663" width="1" height="25" fill="#c0c0c0"/>
<rect x="204" y="659" width="1" height="29" fill="#c0c0c0"/>
<rect x="212" y="657" width="1" height="31" fill="#c0c0c0"/>
<rect x="220" y="657" width="1" height="31" fill="#c0c0c0"/>
<rect x="228" y="657" width="1" height="31" fill="#c0c0c0"/>
<rect x="236" y="657" width="1" height="31" fill="#c0c0c0"/>
<rect x="244" y="658" width="1" height="30" fill="#c0c0c0"/>
<rect x="252" y="658" width="1" height="30" fill="#c0c0c0"/>
<rect x="260" y="658" width="1" height="30" fill="#c0c0c0"/>
<rect x="268" y="658" width="1" height="30" fill="#c0c0c0"/>
<rect x="276" y="658" width="1" height="30" fill="#c0c0c0"/>
<rect x="284" y="658" width="1" height="30" fill="#c0c0c0"/>
<rect x="292" y="658" width="1" height="30" fill="#c0c0c0"/>
<rect x="300" y="659" width="1" height="29" fill="#c0c0c0"/>
<rect x="308" y="663" width="1" height="25" fill="#c0c0c0"/>
<rect x="316" y="668" width="1" height="20" fill="#c0c0c0"/>
<rect x="324" y="672" width="1" height="16" fill="#c0c0c0"/>
<rect x="332" y="675" width="1" height="13" fill="#c0c0c0"/>
<rect x="340" y="676" width="1" height="12" fill="#c0c0c0"/>
<rect x="348" y="676" width="1" height="12" fill="#c0c0c0"/>
<rect x="356" y="676" width="1" height="12" fill="#c0c0c0"/>
<rect x="364" y="679" width="1" height="9" fill="#c0c0c0"/>
<rect x="372" y="681" width="1" height="7" fill="#c0c0c0"/>
<rect x="380" y="682" width="1" height="6" fill="#c0c0c0"/>
<rect x="388" y="683" width="1" height="5" fill="#c0c0c0"/>
<rect x="396" y="685" width="1" height="3" fill="#c0c0c0"/>
<rect x="404" y="679" width="1" height="9" fill="#c0c0c0"/>
<rect x="412" y="671" width="1" height="17" fill="#c0c0c0"/>
<rect x="420" y="664" width="1" height="24" fill="#c0c0c0"/>
<rect x="428" y="658" width="1" height="30" fill="#c0c0c0"/>
<rect x="436" y="654" width="1" height="34" fill="#c0c0c0"/>
<rect x="444" y="648" width="1" height="40" fill="#c0c0c0"/>
<rect x="452" y="645" width="1" height="43" fill="#c0c0c0"/>
<rect x="460" y="642" width="1" height="46" fill="#c0c0c0"/>
<rect x="468" y="640" width="1" height="48" fill="#c0c0c0"/>
<rect x="476" y="640" width="1" height="48" fill="#c0c0c0"/>
<rect x="484" y="640" width="1" height="48" fill="#c0c0c0"/>
<rect x="492" y="642" width="1" height="46" fill="#c0c0c0"/>
<rect x="500" y="646" width="1" height="42" fill="#c0c0c0"/>
<rect x="508" y="651" width="1" height="37" fill="#c0c0c0"/>
<rect x="516" y="654" width="1" height="34" fill="#c0c0c0"/>
<rect x="524" y="656" width="1" height="32" fill="#c0c0c0"/>
<rect x="532" y="658" width="1" height="30" fill="#c0c0c0"/>
<rect x="540" y="658" width="1" height="30" fill="#c0c0c0"/>
<rect x="548" y="659" width="1" height="29" fill="#c0c0c0"/>
<rect x="556" y="660" width="1" height="28" fill="#c0c0c0"/>
<rect x="564" y="662" width="1" height="26" fill="#c0c0c0"/>
<rect x="572" y="664" width="1" height="24" fill="#c0c0c0"/>
<rect x="580" y="665" width="1" height="23" fill="#c0c0c0"/>
<rect x="588" y="667" width="1" height="21" fill="#c0c0c0"/>
<rect x="596" y="666" width="1" height="22" fill="#c0c0c0"/>
<rect x="604" y="665" width="1" height="23" fill="#c0c0c0"/>
<rect x="612" y="662" width="1" height="26" fill="#c0c0c0"/>
<rect x="620" y="665" width="1" height="23" fill="#c0c0c0"/>
<rect x="628" y="668" width="1" height="20" fill="#c0c0c0"/>
<rect x="636" y="672" width="1" height="16" fill="#c0c0c0"/>
<rect x="644" y="672" width="1" height="16" fill="#c0c0c0"/>
<rect x="652" y="671" width="1" height="17" fill="#c0c0c0"/>
<rect x="660" y="670" width="1" height="18" fill="#c0c0c0"/>
<rect x="668" y="669" width="1" height="19" fill="#c0c0c0"/>
<rect x="676" y="667" width="1" height="21" fill="#c0c0c0"/>
<rect x="684" y="664" width="1" height="24" fill="#c0c0c0"/>
<rect x="692" y="666" width="1" height="22" fill="#c0c0c0"/>
<rect x="700" y="666" width="1" height="22" fill="#c0c0c0"/>
<rect x="708" y="665" width="1" height="23" fill="#c0c0c0"/>
<rect x="716" y="637" width="1" height="51" fill="#c0c0c0"/>
<rect x="724" y="613" width="1" height="75" fill="#c0c0c0"/>
<rect x="732" y="600" width="1" height="88" fill="#c0c0c0"/>
<rect x="740" y="592" width="1" height="96" fill="#c0c0c0"/>
<rect x="748" y="595" width="1" height="93" fill="#c0c0c0"/>
<rect x="756" y="598" width="1" height="90" fill="#c0c0c0"/>
<rect x="764" y="599" width="1" height="89" fill="#c0c0c0"/>
<rect x="772" y="599" width="1" height="89" fill="#c0c0c0"/>
<rect x="780" y="599" width="1" height="89" fill="#c0c0c0"/>
<rect x="788" y="601" width="1" height="87" fill="#c0c0c0"/>
<rect x="796" y="605" width="1" height="83" fill="#c0c0c0"/>
<rect x="804" y="608" width="1" height="80" fill="#c0c0c0"/>
<rect x="812" y="619" width="1" height="69" fill="#c0c0c0"/>
<rect x="820" y="625" width="1" height="63" fill="#c0c0c0"/>
<rect x="828" y="634" width="1" height="54" fill="#c0c0c0"/>
<rect x="836" y="646" width="1" height="42" fill="#c0c0c0"/>
<rect x="844" y="661" width="1" height="27" fill="#c0c0c0"/>
<rect x="852" y="676" width="1" height="12" fill="#c0c0c0"/>
<rect x="860" y="686" width="1" height="2" fill="#c0c0c0"/>
<rect x="868" y="688" width="1" height="7" fill="#c0c0c0"/>
<rect x="876" y="688" width="1" height="17" fill="#c0c0c0"/>
<rect x="884" y="688" width="1" height="23" fill="#c0c0c0"/>
<rect x="892" y="688" width="1" height="28" fill="#c0c0c0"/>
<rect x="900" y="688" width="1" height="32" fill="#c0c0c0"/>
<rect x="908" y="688" width="1" height="35" fill="#c0c0c0"/>
<rect x="916" y="688" width="1" height="35" fill="#c0c0c0"/>
<rect x="924" y="688" width="1" height="33" fill="#c0c0c0"/>
<rect x="932" y="688" width="1" height="36" fill="#c0c0c0"/>
<rect x="940" y="688" width="1" height="43" fill="#c0c0c0"/>
<rect x="948" y="688" width="1" height="49" fill="#c0c0c0"/>
<rect x="956" y="688" width="1" height="52" fill="#c0c0c0"/>
<rect x="964" y="688" width="1" height="53" fill="#c0c0c0"/>
<rect x="972" y="688" width="1" height="54" fill="#c0c0c0"/>
<rect x="980" y="688" width="1" height="54" fill="#c0c0c0"/>
<rect x="988" y="688" width="1" height="50" fill="#c0c0c0"/>
<rect x="996" y="688" width="1" height="49" fill="#c0c0c0"/>
<rect x="1004" y="688" width="1" height="48" fill="#c0c0c0"/>
<rect x="1012" y="688" width="1" height="47" fill="#c0c0c0"/>
<rect x="1020" y="688" width="1" height="46" fill="#c0c0c0"/>
<rect x="1028" y="688" width="1" height="47" fill="#c0c0c0"/>
<rect x="1036" y="688" width="1" height="52" fill="#c0c0c0"/>
<rect x="1044" y="688" width="1" height="54" fill="#c0c0c0"/>
<rect x="1052" y="688" width="1" height="54" fill="#c0c0c0"/>
<rect x="1060" y="688" width="1" height="54" fill="#c0c0c0"/>
<rect x="1068" y="688" width="1" height="55" fill="#c0c0c0"/>
<rect x="1076" y="688" width="1" height="53" fill="#c0c0c0"/>
<rect x="1084" y="688" width="1" height="50" fill="#c0c0c0"/>
<rect x="1092" y="688" width="1" height="48" fill="#c0c0c0"/>
<rect x="1100" y="688" width="1" height="48" fill="#c0c0c0"/>
<rect x="1108" y="688" width="1" height="43" fill="#c0c0c0"/>
<rect x="1116" y="688" width="1" height="37" fill="#c0c0c0"/>
<rect x="1124" y="688" width="1" height="30" fill="#c0c0c0"/>
<rect x="1132" y="688" width="1" height="28" fill="#c0c0c0"/>
<rect x="1140" y="688" width="1" height="20" fill="#c0c0c0"/>
<rect x="1148" y="688" width="1" height="14" fill="#c0c0c0"/>
<rect x="1156" y="688" width="1" height="11" fill="#c0c0c0"/>
<rect x="1164" y="688" width="1" height="8" fill="#c0c0c0"/>
<rect x="1172" y="688" width="1" height="2" fill="#c0c0c0"/>
<rect x="1180" y="685" width="1" height="3" fill="#c0c0c0"/>
<rect x="1188" y="677" width="1" height="11" fill="#c0c0c0"/>
<rect x="1196" y="673" width="1" height="15" fill="#c0c0c0"/>
<rect x="1204" y="670" width="1" height="18" fill="#c0c0c0"/>
<rect x="1212" y="669" width="1" height="19" fill="#c0c0c0"/>
<rect x="1220" y="667" width="1" height="21" fill="#c0c0c0"/>
<rect x="1228" y="667" width="1" height="21" fill="#c0c0c0"/>
<rect x="1236" y="668" width="1" height="20" fill="#c0c0c0"/>
<rect x="1244" y="671" width="1" height="17" fill="#c0c0c0"/>
<rect x="1252" y="674" width="1" height="14" fill="#c0c0c0"/>
<rect x="1260" y="677" width="1" height="11" fill="#c0c0c0"/>
<rect x="1268" y="678" width="1" height="10" fill="#c0c0c0"/>
<rect x="1276" y="675" width="1" height="13" fill="#c0c0c0"/>
<rect x="1284" y="669" width="1" height="19" fill="#c0c0c0"/>
<rect x="1292" y="665" width="1" height="23" fill="#c0c0c0"/>
<rect x="1300" y="661" width="1" height="27" fill="#c0c0c0"/>
<rect x="1308" y="657" width="1" height="31" fill="#c0c0c0"/>
<rect x="1316" y="659" width="1" height="29" fill="#c0c0c0"/>
<rect x="1324" y="658" width="1" height="30" fill="#c0c0c0"/>
<rect x="1332" y="660" width="1" height="28" fill="#c0c0c0"/>
<rect x="1340" y="667" width="1" height="21" fill="#c0c0c0"/>
<rect x="1348" y="675" width="1" height="13" fill="#c0c0c0"/>
<rect x="1356" y="681" width="1" height="7" fill="#c0c0c0"/>
<rect x="1364" y="687" width="1" height="1" fill="#c0c0c0"/>
<rect x="1372" y="688" width="1" height="13" fill="#c0c0c0"/>
<rect x="1380" y="688" width="1" height="23" fill="#c0c0c0"/>
<rect x="1388" y="688" width="1" height="30" fill="#c0c0c0"/>
<rect x="1396" y="688" width="1" height="37" fill="#c0c0c0"/>
<polyline points="3.0,686.4 15.5,686.4 25.5,687.9 35.5,689.7 46.0,692.2 56.1,694.2 66.2,696.8 76.3,696.8 83.9,697.8 91.5,696.8 101.5,694.7 111.5,692.2 121.5,689.7 131.5,687.7 142.0,685.9 152.1,685.1 162.2,684.1 172.3,683.4 187.5,681.6 197.5,678.3 207.5,674.5 220.5,668.2 233.0,664.4 243.1,660.6 253.2,659.4 260.5,658.1 286.1,658.1 303.5,658.9 321.5,660.6 329.0,663.2 339.1,665.2 349.2,667.5 359.4,670.0 369.5,672.5 379.5,675.3 389.5,677.6 399.5,679.1 413.0,678.6 429.3,676.1 438.0,671.9 453.1,664.3 465.5,658.1 475.5,651.1 485.5,646.8 500.5,644.3 518.1,643.8 520.5,645.1 540.5,648.1 555.5,653.1 570.5,657.3 585.5,659.3 605.5,662.6 615.5,663.1 633.3,665.6 650.5,667.6 675.5,667.6 685.5,668.9 700.5,668.6 710.5,666.9 717.1,663.1 725.5,655.6 735.5,646.8 745.5,635.5 755.5,626.8 765.5,617.5 775.5,608.0 783.5,601.0 796.0,598.5 801.0,599.3 810.5,603.0 820.5,605.0 830.5,610.5 840.5,618.0 850.5,629.3 860.5,639.3 870.5,650.5 878.1,661.8 886.9,673.1 893.1,683.1 900.5,690.5 910.5,701.9 920.5,709.4 930.5,715.7 943.2,721.9 955.5,726.9 970.5,732.7 985.5,735.7 995.5,738.7 1013.3,740.7 1025.5,739.9 1038.3,738.7 1055.5,738.7 1065.5,740.7 1080.5,741.2 1100.5,741.9 1115.5,738.7 1125.5,735.7 1140.5,729.4 1150.5,723.2 1160.5,718.2 1170.5,711.9 1180.5,705.5 1190.5,698.1 1200.5,691.9 1208.0,688.1 1215.5,682.6 1225.5,678.6 1235.5,674.4 1248.1,671.4 1273.1,671.1 1278.1,672.1 1290.5,671.4 1308.1,670.6 1318.1,667.4 1330.5,665.6 1340.5,663.6 1350.5,663.1 1355.5,665.1 1363.2,666.1 1370.5,670.6 1375.5,673.1 1385.5,681.9 1394.5,690.1" fill="none" stroke="#ff0000" stroke-width="1" stroke-dasharray="3 3"/>
<line x1="3" x2="1615" y1="790.5" y2="790.5" stroke="#c0c0c0" stroke-dasharray="3 3"/>
<line x1="3" x2="1615" y1="841.5" y2="841.5" stroke="#c0c0c0" stroke-dasharray="3 3"/>
<line x1="3" x2="1615" y1="902.5" y2="902.5" stroke="#c0c0c0" stroke-dasharray="3 3"/>
<polyline points="-3.5,842.3 4.5,842.6 12.5,843.9 20.5,861.1 28.5,870.7 36.5,871.9 44.5,855.6 52.5,857.6 60.5,842.6 68.5,839.4 76.5,825.6 84.5,825.6 92.5,827.6 100.5,828.8 108.5,836.4 116.5,840.6 124.5,849.9 132.5,838.6 140.5,838.6 148.5,840.6 156.5,845.6 164.5,826.8 172.5,821.3 180.5,807.6 188.5,811.8 196.5,811.1 204.5,807.6 212.5,817.6 220.5,821.1 228.5,819.8 236.5,818.6 244.5,819.8 252.5,817.6 260.5,823.8 268.5,814.8 276.5,816.8 284.5,825.6 292.5,818.6 300.5,822.6 308.5,825.6 316.5,848.9 324.5,846.1 332.5,844.9 340.5,836.9 348.5,830.6 356.5,831.9 364.5,848.1 372.5,846.9 380.5,839.9 388.5,844.4 396.5,849.9 404.5,818.1 412.5,806.8 420.5,805.6 428.5,806.8 436.5,804.3 444.5,799.8 452.5,801.1 460.5,801.1 468.5,799.8 476.5,802.6 484.5,803.8 492.5,807.6 500.5,826.8 508.5,834.9 516.5,827.6 524.5,824.8 532.5,825.6 540.5,817.6 548.5,823.6 556.5,823.8 564.5,826.8 572.5,829.8 580.5,825.6 588.5,831.9 596.5,819.8 604.5,816.3 612.5,806.8 620.5,838.6 628.5,836.9 636.5,845.1 644.5,834.4 652.5,827.6 660.5,825.6 668.5,825.6 676.5,819.8 684.5,817.6 692.5,833.9 700.5,828.8 708.5,823.1 716.5,783.8 724.5,782.5 732.5,796.8 740.5,802.6 748.5,821.1 756.5,821.1 764.5,817.6 772.5,813.8 780.5,813.8 788.5,816.8 796.5,820.6 804.5,818.6 812.5,836.9 820.5,832.6 828.5,839.4 836.5,849.4 844.5,859.9 852.5,863.1 860.5,860.6 868.5,864.9 876.5,866.9 884.5,862.6 892.5,864.9 900.5,861.9 908.5,863.1 916.5,861.9 924.5,853.6 932.5,864.4 940.5,873.7 948.5,876.2 956.5,871.2 964.5,870.7 972.5,871.9 980.5,869.9 988.5,857.6 996.5,863.9 1004.5,864.9 1012.5,866.1 1020.5,863.9 1028.5,871.2 1036.5,880.7 1044.5,875.7 1052.5,873.9 1060.5,872.7 1068.5,876.9 1076.5,867.6 1084.5,864.9 1092.5,866.1 1100.5,871.9 1108.5,853.6 1116.5,843.9 1124.5,841.9 1132.5,848.9 1140.5,835.6 1148.5,833.6 1156.5,837.6 1164.5,841.1 1172.5,828.8 1180.5,820.6 1188.5,816.1 1196.5,823.8 1204.5,823.6 1212.5,826.1 1220.5,826.1 1228.5,825.0 1236.5,835.8 1244.5,842.8 1252.5,841.7 1260.5,845.0 1268.5,841.4 1276.5,822.8 1284.5,813.1 1292.5,815.0 1300.5,813.1 1308.5,810.8 1316.5,827.8 1324.5,824.2 1332.5,831.1 1340.5,852.0 1348.5,857.5 1356.5,853.4 1364.5,864.5 1372.5,875.6 1380.5,877.8 1388.5,874.2 1396.5,872.8" fill="none" stroke="#1e90ff" stroke-width="1" />
<g font-family="Liberation Sans, sans-serif" font-size="10.4" fill="#000" shape-rendering="auto">
<rect x="1616" y="49" width="2" height="1" fill="#000"/>
<text x="1621.4" y="53.1" textLength="32.59" lengthAdjust="spacingAndGlyphs" xml:space="preserve" >148.035</text>
<rect x="1616" y="82" width="2" height="1" fill="#000"/>
<text x="1621.4" y="86.1" textLength="32.59" lengthAdjust="spacingAndGlyphs" xml:space="preserve" >147.480</text>
<rect x="1616" y="115" width="2" height="1" fill="#000"/>
<text x="1621.4" y="119.1" textLength="32.59" lengthAdjust="spacingAndGlyphs" xml:space="preserve" >146.925</text>
<rect x="1616" y="148" width="2" height="1" fill="#000"/>
<text x="1621.4" y="152.1" textLength="32.59" lengthAdjust="spacingAndGlyphs" xml:space="preserve" >146.355</text>
<rect x="1616" y="181" width="2" height="1" fill="#000"/>
<text x="1621.4" y="185.1" textLength="32.59" lengthAdjust="spacingAndGlyphs" xml:space="preserve" >145.800</text>
<rect x="1616" y="214" width="2" height="1" fill="#000"/>
<text x="1621.4" y="218.1" textLength="32.59" lengthAdjust="spacingAndGlyphs" xml:space="preserve" >145.245</text>
<rect x="1616" y="247" width="2" height="1" fill="#000"/>
<text x="1621.4" y="251.1" textLength="32.59" lengthAdjust="spacingAndGlyphs" xml:space="preserve" >144.690</text>
<rect x="1616" y="280" width="2" height="1" fill="#000"/>
<text x="1621.4" y="284.1" textLength="32.59" lengthAdjust="spacingAndGlyphs" xml:space="preserve" >144.135</text>
<rect x="1616" y="313" width="2" height="1" fill="#000"/>
<text x="1621.4" y="317.1" textLength="32.59" lengthAdjust="spacingAndGlyphs" xml:space="preserve" >143.580</text>
<rect x="1616" y="346" width="2" height="1" fill="#000"/>
<text x="1621.4" y="350.1" textLength="32.59" lengthAdjust="spacingAndGlyphs" xml:space="preserve" >143.025</text>
<rect x="1616" y="379" width="2" height="1" fill="#000"/>
<text x="1621.4" y="383.1" textLength="32.59" lengthAdjust="spacingAndGlyphs" xml:space="preserve" >142.470</text>
<rect x="1616" y="412" width="2" height="1" fill="#000"/>
<text x="1621.4" y="416.1" textLength="32.59" lengthAdjust="spacingAndGlyphs" xml:space="preserve" >141.900</text>
<rect x="1616" y="445" width="2" height="1" fill="#000"/>
<text x="1621.4" y="449.1" textLength="32.59" lengthAdjust="spacingAndGlyphs" xml:space="preserve" >141.345</text>
<rect x="1616" y="478" width="2" height="1" fill="#000"/>
<text x="1621.4" y="482.1" textLength="32.59" lengthAdjust="spacingAndGlyphs" xml:space="preserve" >140.790</text>
<rect x="1616" y="511" width="2" height="1" fill="#000"/>
<text x="1621.4" y="515.1" textLength="32.59" lengthAdjust="spacingAndGlyphs" xml:space="preserve" >140.235</text>
<rect x="1616" y="544" width="2" height="1" fill="#000"/>
<text x="1621.4" y="548.1" textLength="32.59" lengthAdjust="spacingAndGlyphs" xml:space="preserve" >139.680</text>
<rect x="1616" y="577" width="2" height="1" fill="#000"/>
<text x="1621.4" y="581.1" textLength="32.59" lengthAdjust="spacingAndGlyphs" xml:space="preserve" >139.125</text>
<text x="1619.6" y="594" textLength="27.58" lengthAdjust="spacingAndGlyphs" xml:space="preserve" >1.1277</text>
<rect x="1616" y="688" width="2" height="1" fill="#000"/>
<text x="1619.6" y="691.9" textLength="17.55" lengthAdjust="spacingAndGlyphs" xml:space="preserve" >0.00</text>
<text x="1619.6" y="749.9" textLength="25.57" lengthAdjust="spacingAndGlyphs" xml:space="preserve" >-0.703</text>
<text x="1619.6" y="765.9" textLength="15.04" lengthAdjust="spacingAndGlyphs" xml:space="preserve" >100</text>
<text x="1619.6" y="794.9" textLength="10.03" lengthAdjust="spacingAndGlyphs" xml:space="preserve" >80</text>
<text x="1619.6" y="845.9" textLength="10.03" lengthAdjust="spacingAndGlyphs" xml:space="preserve" >50</text>
<text x="1619.6" y="906.9" textLength="10.03" lengthAdjust="spacingAndGlyphs" xml:space="preserve" >15</text>
<text x="1619.6" y="925.9" textLength="5.01" lengthAdjust="spacingAndGlyphs" xml:space="preserve" >0</text>
<text x="1" y="594.9" textLength="132.50" lengthAdjust="spacingAndGlyphs" xml:space="preserve" >MACD(12,26,9) -0.4090 -0.0493</text>
<text x="1" y="766.9" textLength="66.30" lengthAdjust="spacingAndGlyphs" xml:space="preserve" >RSI(14) 32.4181</text>
<text x="11" y="39.4" textLength="200.00" lengthAdjust="spacingAndGlyphs" xml:space="preserve" >GBPJPY-,H4  141.215 141.382 140.998 141.254</text>
<text x="-4.8" y="941.6" textLength="53.67" lengthAdjust="spacingAndGlyphs" xml:space="preserve" >21 Nov 2019</text>
<rect x="60" y="929" width="1" height="5" fill="#000"/>
<text x="59.2" y="941.6" textLength="56.30" lengthAdjust="spacingAndGlyphs" xml:space="preserve" >25 Nov 04:00</text>
<rect x="124" y="929" width="1" height="5" fill="#000"/>
<text x="123.2" y="941.6" textLength="56.30" lengthAdjust="spacingAndGlyphs" xml:space="preserve" >26 Nov 12:00</text>
<rect x="188" y="929" width="1" height="5" fill="#000"/>
<text x="187.2" y="941.6" textLength="56.30" lengthAdjust="spacingAndGlyphs" xml:space="preserve" >27 Nov 20:00</text>
<rect x="252" y="929" width="1" height="5" fill="#000"/>
<text x="251.2" y="941.6" textLength="56.30" lengthAdjust="spacingAndGlyphs" xml:space="preserve" >29 Nov 04:00</text>
<rect x="316" y="929" width="1" height="5" fill="#000"/>
<text x="315.2" y="941.6" textLength="51.04" lengthAdjust="spacingAndGlyphs" xml:space="preserve" >2 Dec 12:00</text>
<rect x="380" y="929" width="1" height="5" fill="#000"/>
<text x="379.2" y="941.6" textLength="51.04" lengthAdjust="spacingAndGlyphs" xml:space="preserve" >3 Dec 20:00</text>
<rect x="444" y="929" width="1" height="5" fill="#000"/>
<text x="443.2" y="941.6" textLength="51.04" lengthAdjust="spacingAndGlyphs" xml:space="preserve" >5 Dec 04:00</text>
<rect x="508" y="929" width="1" height="5" fill="#000"/>
<text x="507.2" y="941.6" textLength="51.04" lengthAdjust="spacingAndGlyphs" xml:space="preserve" >6 Dec 12:00</text>
<rect x="572" y="929" width="1" height="5" fill="#000"/>
<text x="571.2" y="941.6" textLength="51.04" lengthAdjust="spacingAndGlyphs" xml:space="preserve" >9 Dec 20:00</text>
<rect x="636" y="929" width="1" height="5" fill="#000"/>
<text x="635.2" y="941.6" textLength="55.60" lengthAdjust="spacingAndGlyphs" xml:space="preserve" >11 Dec 04:00</text>
<rect x="700" y="929" width="1" height="5" fill="#000"/>
<text x="699.2" y="941.6" textLength="56.30" lengthAdjust="spacingAndGlyphs" xml:space="preserve" >12 Dec 12:00</text>
<rect x="764" y="929" width="1" height="5" fill="#000"/>
<text x="763.2" y="941.6" textLength="56.30" lengthAdjust="spacingAndGlyphs" xml:space="preserve" >15 Dec 23:00</text>
<rect x="828" y="929" width="1" height="5" fill="#000"/>
<text x="827.2" y="941.6" textLength="56.30" lengthAdjust="spacingAndGlyphs" xml:space="preserve" >17 Dec 04:00</text>
<rect x="892" y="929" width="1" height="5" fill="#000"/>
<text x="891.2" y="941.6" textLength="56.30" lengthAdjust="spacingAndGlyphs" xml:space="preserve" >18 Dec 12:00</text>
<rect x="956" y="929" width="1" height="5" fill="#000"/>
<text x="955.2" y="941.6" textLength="56.30" lengthAdjust="spacingAndGlyphs" xml:space="preserve" >19 Dec 20:00</text>
<rect x="1020" y="929" width="1" height="5" fill="#000"/>
<text x="1019.2" y="941.6" textLength="56.30" lengthAdjust="spacingAndGlyphs" xml:space="preserve" >23 Dec 04:00</text>
<rect x="1084" y="929" width="1" height="5" fill="#000"/>
<text x="1083.2" y="941.6" textLength="56.30" lengthAdjust="spacingAndGlyphs" xml:space="preserve" >24 Dec 12:00</text>
<rect x="1148" y="929" width="1" height="5" fill="#000"/>
<text x="1147.2" y="941.6" textLength="56.30" lengthAdjust="spacingAndGlyphs" xml:space="preserve" >26 Dec 16:00</text>
<rect x="1212" y="929" width="1" height="5" fill="#000"/>
<text x="1211.2" y="941.6" textLength="56.30" lengthAdjust="spacingAndGlyphs" xml:space="preserve" >30 Dec 00:00</text>
<rect x="1276" y="929" width="1" height="5" fill="#000"/>
<text x="1275.2" y="941.6" textLength="56.30" lengthAdjust="spacingAndGlyphs" xml:space="preserve" >31 Dec 08:00</text>
<rect x="1340" y="929" width="1" height="5" fill="#000"/>
<text x="1339.2" y="941.6" textLength="49.46" lengthAdjust="spacingAndGlyphs" xml:space="preserve" >2 Jan 12:00</text>
</g>
<rect x="1617" y="359" width="41" height="11" fill="#ff0000"/>
<text x="1621.4" y="368.4" textLength="32.59" lengthAdjust="spacingAndGlyphs" xml:space="preserve" font-family="Liberation Sans, sans-serif" font-size="10.4" fill="#fff" shape-rendering="auto">142.702</text>
<rect x="1617" y="387" width="41" height="11" fill="#ff0000"/>
<text x="1621.4" y="396.4" textLength="32.59" lengthAdjust="spacingAndGlyphs" xml:space="preserve" font-family="Liberation Sans, sans-serif" font-size="10.4" fill="#fff" shape-rendering="auto">142.231</text>
<rect x="1617" y="414" width="41" height="11" fill="#32cd32"/>
<text x="1621.4" y="423.4" textLength="32.59" lengthAdjust="spacingAndGlyphs" xml:space="preserve" font-family="Liberation Sans, sans-serif" font-size="10.4" fill="#fff" shape-rendering="auto">141.776</text>
<rect x="1617" y="446" width="41" height="11" fill="#000000"/>
<text x="1621.4" y="455.4" textLength="32.59" lengthAdjust="spacingAndGlyphs" xml:space="preserve" font-family="Liberation Sans, sans-serif" font-size="10.4" fill="#fff" shape-rendering="auto">141.254</text>
<rect x="1617" y="487" width="41" height="11" fill="#0000ff"/>
<text x="1621.4" y="496.4" textLength="32.59" lengthAdjust="spacingAndGlyphs" xml:space="preserve" font-family="Liberation Sans, sans-serif" font-size="10.4" fill="#fff" shape-rendering="auto">140.546</text>
<rect x="1617" y="521" width="41" height="11" fill="#0000ff"/>
<text x="1621.4" y="530.4" textLength="32.59" lengthAdjust="spacingAndGlyphs" xml:space="preserve" font-family="Liberation Sans, sans-serif" font-size="10.4" fill="#fff" shape-rendering="auto">139.973</text>
<text x="1505.6" y="428" font-family="Liberation Sans, sans-serif" font-size="20.4" textLength="69" lengthAdjust="spacingAndGlyphs" fill="#ff0000" shape-rendering="auto">141.776</text>
<defs><filter id="sh" x="-5%" y="-10%" width="110%" height="125%"><feOffset in="SourceAlpha" dx="1" dy="1" result="o"/><feFlood flood-color="#000"/><feComposite in2="o" operator="in" result="s"/><feMerge><feMergeNode in="s"/><feMergeNode in="SourceGraphic"/></feMerge></filter></defs>
<text x="1111.4" y="449.6" font-family="Liberation Serif, Noto Serif CJK SC, serif" font-weight="500" font-size="31" shape-rendering="auto" stroke-width="0.3" stroke-linejoin="round" fill="#00ff00" stroke="#00ff00" textLength="162" lengthAdjust="spacing" filter="url(#sh)">多空转折点</text>
<polygon points="0,38.5 3,33.5 6.5,38.5" fill="#000" shape-rendering="auto"/>
<rect x="1661" y="25" width="1" height="922" fill="#e3e3e3"/>
<g shape-rendering="auto">
<defs>
<linearGradient id="gold" x1="0" y1="0" x2="1" y2="1"><stop offset="0" stop-color="#fbe38a"/><stop offset="0.6" stop-color="#e0a72a"/><stop offset="1" stop-color="#b87a10"/></linearGradient>
<linearGradient id="lens" x1="0" y1="0" x2="0" y2="1"><stop offset="0" stop-color="#eaf6ff"/><stop offset="1" stop-color="#a9d4f5"/></linearGradient>
<linearGradient id="clk" x1="0" y1="0" x2="0" y2="1"><stop offset="0" stop-color="#4f9af0"/><stop offset="1" stop-color="#0d49b8"/></linearGradient>
<linearGradient id="hat" x1="0" y1="0" x2="0" y2="1"><stop offset="0" stop-color="#8ec4f2"/><stop offset="1" stop-color="#3f86d0"/></linearGradient>
<linearGradient id="grn" x1="0" y1="0" x2="0" y2="1"><stop offset="0" stop-color="#7be07b"/><stop offset="1" stop-color="#159a15"/></linearGradient>
<linearGradient id="sellg" x1="0" y1="0" x2="0" y2="1"><stop offset="0" stop-color="#fa5353"/><stop offset="0.38" stop-color="#e53535"/><stop offset="1" stop-color="#b00303"/></linearGradient>
<linearGradient id="btn" x1="0" y1="0" x2="0" y2="1"><stop offset="0" stop-color="#f4f4f4"/><stop offset="0.45" stop-color="#e6e6e6"/><stop offset="0.5" stop-color="#d8d8d8"/><stop offset="1" stop-color="#d0d0d0"/></linearGradient>
</defs>
<rect x="0" y="13" width="2.5" height="3.5" fill="#1ea51e"/>
<text x="4.5" y="14.6" font-family="Liberation Sans, Noto Sans CJK SC, sans-serif" font-size="12" fill="#000" textLength="36.5" lengthAdjust="spacingAndGlyphs">新订单</text>
<polygon points="58,4.2 69,10.2 62.2,17 53,12" fill="url(#gold)" stroke="#a06a10" stroke-width="0.7"/>
<polygon points="53,12 62.2,17 62.2,19 53,14" fill="#9a6410"/><polygon points="62.2,17 69,10.2 69,12 62.2,19" fill="#c08a20"/>
<rect x="84.5" y="3" width="8.5" height="10.5" rx="1" fill="#3f8fe8" stroke="#1d5fb8" stroke-width="0.8"/><rect x="86" y="5" width="5.5" height="1.4" fill="#d8ecff"/><rect x="86" y="7.6" width="5.5" height="1.2" fill="#bcdcff"/>
<path d="M84 18.2h10.2a3 3 0 0 0 .6-5.9a3.6 3.6 0 0 0-6.6-1.2a2.6 2.6 0 0 0-3.4 2.1a2.6 2.6 0 0 0-.8 5z" fill="#f4f9ff" stroke="#7a9cc8" stroke-width="0.9"/>
<circle cx="116.7" cy="10.8" r="7.6" fill="none" stroke="#9fc0ee" stroke-width="1.4"/><circle cx="116.7" cy="10.8" r="4.6" fill="none" stroke="#5f94e0" stroke-width="1.5"/>
<path d="M116.7 10.8L116.7 19.0A8.2 8.2 0 0 0 124.9 10.8z" fill="#4caf50" opacity="0.9"/><path d="M116.7 15.4A4.6 4.6 0 0 0 121.3 10.8" fill="none" stroke="#e8ffe8" stroke-width="1.2"/>
<circle cx="116.7" cy="10.8" r="1.9" fill="#1f5fd0"/>
<path d="M138.5 9L143.5 17.5H147L151 9z" fill="#f6d23a" stroke="#c79a10" stroke-width="0.6"/>
<ellipse cx="144.3" cy="7.2" rx="7.8" ry="3" fill="url(#hat)" stroke="#3a78c0" stroke-width="0.6"/><ellipse cx="144.3" cy="5.6" rx="4.2" ry="2.6" fill="#6fb0ec"/>
<circle cx="149.3" cy="14.4" r="3.9" fill="#e0281e" stroke="#a01208" stroke-width="0.5"/><rect x="147.6" y="12.7" width="3.4" height="3.4" fill="#fff"/>
<text x="157.4" y="14.6" font-family="Liberation Sans, Noto Sans CJK SC, sans-serif" font-size="12" fill="#000" textLength="47.5" lengthAdjust="spacingAndGlyphs">自动交易</text>
<rect x="212" y="1" width="1" height="20" fill="#a0a0a0" shape-rendering="crispEdges"/><rect x="213" y="1" width="1" height="20" fill="#fafafa" shape-rendering="crispEdges"/>
<rect x="216" y="2" width="3" height="1" fill="#a8a8a8" shape-rendering="crispEdges"/>
<rect x="216" y="4" width="3" height="1" fill="#a8a8a8" shape-rendering="crispEdges"/>
<rect x="216" y="6" width="3" height="1" fill="#a8a8a8" shape-rendering="crispEdges"/>
<rect x="216" y="8" width="3" height="1" fill="#a8a8a8" shape-rendering="crispEdges"/>
<rect x="216" y="10" width="3" height="1" fill="#a8a8a8" shape-rendering="crispEdges"/>
<rect x="216" y="12" width="3" height="1" fill="#a8a8a8" shape-rendering="crispEdges"/>
<rect x="216" y="14" width="3" height="1" fill="#a8a8a8" shape-rendering="crispEdges"/>
<rect x="216" y="16" width="3" height="1" fill="#a8a8a8" shape-rendering="crispEdges"/>
<rect x="216" y="18" width="3" height="1" fill="#a8a8a8" shape-rendering="crispEdges"/>
<path d="M230.5 5.5V19 M227.5 16.5H241" stroke="#505050" stroke-width="1.2" fill="none"/>
<path d="M228.8 6.8L230.5 4.6L232.2 6.8 M239.6 14.8L241.8 16.5L239.6 18.2" stroke="#505050" stroke-width="1" fill="none"/>
<path d="M237.5 6.5V14 M237.5 7.5H239.5 M235.3 13H237.5" stroke="#1a9a1a" stroke-width="1.4" fill="none"/>
<rect x="250" y="1" width="1" height="20" fill="#a0a0a0" shape-rendering="crispEdges"/><rect x="251" y="1" width="1" height="20" fill="#fafafa" shape-rendering="crispEdges"/>
<rect x="251" y="1" width="24" height="20" fill="#f9f9f9" shape-rendering="crispEdges"/>
<path d="M258.5 5.5V19 M255.5 16.5H269" stroke="#505050" stroke-width="1.2" fill="none"/>
<path d="M256.8 6.8L258.5 4.6L260.2 6.8 M267.6 14.8L269.8 16.5L267.6 18.2" stroke="#505050" stroke-width="1" fill="none"/>
<path d="M264.5 3V14.5" stroke="#0a7a0a" stroke-width="1.2"/><rect x="262.6" y="5.6" width="3.8" height="7" fill="#2bd42b" stroke="#0a7a0a" stroke-width="0.8"/>
<path d="M286.5 5.5V19 M283.5 16.5H297" stroke="#505050" stroke-width="1.2" fill="none"/>
<path d="M284.8 6.8L286.5 4.6L288.2 6.8 M295.6 14.8L297.8 16.5L295.6 18.2" stroke="#505050" stroke-width="1" fill="none"/>
<path d="M285.5 14C288 9 291 6.5 293 8.5S296 12 297.5 12.2" stroke="#1a9a1a" stroke-width="1.3" fill="none"/>
<rect x="307" y="1" width="1" height="20" fill="#a0a0a0" shape-rendering="crispEdges"/><rect x="308" y="1" width="1" height="20" fill="#fafafa" shape-rendering="crispEdges"/>
<path d="M325.6 12.799999999999999L331.2 18.2" stroke="#b8901c" stroke-width="3.2" stroke-linecap="round"/><path d="M326 12.6L331 17.6" stroke="#f0cc50" stroke-width="1.3" stroke-linecap="round"/>
<circle cx="322" cy="9.2" r="5" fill="url(#lens)" stroke="#3a78d8" stroke-width="1.3"/>
<path d="M319.2 9.2H324.8" stroke="#2a62c8" stroke-width="1.7"/>
<path d="M322 6.4V12" stroke="#2a62c8" stroke-width="1.7"/>
<path d="M353.6 12.799999999999999L359.2 18.2" stroke="#b8901c" stroke-width="3.2" stroke-linecap="round"/><path d="M354 12.6L359 17.6" stroke="#f0cc50" stroke-width="1.3" stroke-linecap="round"/>
<circle cx="350" cy="9.2" r="5" fill="url(#lens)" stroke="#3a78d8" stroke-width="1.3"/>
<path d="M347.2 9.2H352.8" stroke="#2a62c8" stroke-width="1.7"/>
<rect x="372" y="3.2" width="7.8" height="7.7" fill="#5fc83f" stroke="#2f9a18" stroke-width="0.6"/><rect x="373.3" y="6.2" width="5.2" height="3.4" fill="#f2f6ff"/><rect x="373.3" y="7.5" width="5.2" height="0.8" fill="#5fc83f"/>
<rect x="380.2" y="3.2" width="7.8" height="7.7" fill="#3a6ee0" stroke="#1a3fb0" stroke-width="0.6"/><rect x="381.5" y="6.2" width="5.2" height="3.4" fill="#f2f6ff"/><rect x="381.5" y="7.5" width="5.2" height="0.8" fill="#3a6ee0"/>
<rect x="372" y="11.3" width="7.8" height="7.7" fill="#3a6ee0" stroke="#1a3fb0" stroke-width="0.6"/><rect x="373.3" y="14.3" width="5.2" height="3.4" fill="#f2f6ff"/><rect x="373.3" y="15.600000000000001" width="5.2" height="0.8" fill="#3a6ee0"/>
<rect x="380.2" y="11.3" width="7.8" height="7.7" fill="#5fc83f" stroke="#2f9a18" stroke-width="0.6"/><rect x="381.5" y="14.3" width="5.2" height="3.4" fill="#f2f6ff"/><rect x="381.5" y="15.600000000000001" width="5.2" height="0.8" fill="#5fc83f"/>
<rect x="397" y="1" width="1" height="20" fill="#a0a0a0" shape-rendering="crispEdges"/><rect x="398" y="1" width="1" height="20" fill="#fafafa" shape-rendering="crispEdges"/>
<rect x="401" y="1" width="1" height="20" fill="#a0a0a0" shape-rendering="crispEdges"/><rect x="402" y="1" width="1" height="20" fill="#fafafa" shape-rendering="crispEdges"/>
<rect x="403" y="1" width="24" height="20" fill="#f9f9f9" shape-rendering="crispEdges"/>
<path d="M410.5 5.5V19 M407.5 16.5H421" stroke="#505050" stroke-width="1.2" fill="none"/>
<path d="M408.8 6.8L410.5 4.6L412.2 6.8 M419.6 14.8L421.8 16.5L419.6 18.2" stroke="#505050" stroke-width="1" fill="none"/>
<polygon points="415,7 415,14 420,10.5" fill="#3ad03a" stroke="#0a8a0a" stroke-width="0.7"/>
<rect x="430" y="1" width="1" height="20" fill="#a0a0a0" shape-rendering="crispEdges"/><rect x="431" y="1" width="1" height="20" fill="#fafafa" shape-rendering="crispEdges"/>
<rect x="431" y="1" width="24" height="20" fill="#f9f9f9" shape-rendering="crispEdges"/>
<path d="M438.5 5.5V19 M435.5 16.5H449" stroke="#505050" stroke-width="1.2" fill="none"/>
<path d="M436.8 6.8L438.5 4.6L440.2 6.8 M447.6 14.8L449.8 16.5L447.6 18.2" stroke="#505050" stroke-width="1" fill="none"/>
<path d="M444.5 5V14.8" stroke="#1a6aa8" stroke-width="1.3"/><path d="M449.8 10.7H445.8 M447.8 8.7L445.6 10.7L447.8 12.7" stroke="#e04a10" stroke-width="1.2" fill="none"/>
<rect x="459" y="1" width="1" height="20" fill="#a0a0a0" shape-rendering="crispEdges"/><rect x="460" y="1" width="1" height="20" fill="#fafafa" shape-rendering="crispEdges"/>
<path d="M469.5 4.5h6.5l3 3v8.5h-9.5z" fill="#fafafa" stroke="#707070" stroke-width="0.9"/><path d="M473 7.2c-1.2-.3-1.6.4-1.6 1.2v4.2" stroke="#606060" stroke-width="0.9" fill="none"/><path d="M470.4 10h3" stroke="#606060" stroke-width="0.8"/>
<path d="M477.6 10.2h3.4v3.4h3.4v3.4h-3.4v3.2h-3.4v-3.2h-3.4v-3.4h3.4z" fill="#2fd02f" stroke="#0c8a0c" stroke-width="0.8"/>
<polygon points="491.3,10 496.8,10 494.05,13.2" fill="#000"/>
<circle cx="514.8" cy="10.8" r="7.6" fill="url(#clk)" stroke="#0a3c9a" stroke-width="0.7"/><circle cx="514.8" cy="10.8" r="5.3" fill="#f4f8ff"/><path d="M514.8 7V11H517.6" stroke="#404040" stroke-width="1" fill="none"/>
<polygon points="529.8,10 535.3,10 532.55,13.2" fill="#000"/>
<rect x="546.5" y="4.6" width="15" height="12.8" fill="#fbfdff" stroke="#3a6ec8" stroke-width="1.2"/><rect x="546.5" y="4.6" width="15" height="2.4" fill="#4a86e0"/><path d="M547 12H561" stroke="#3a6ec8" stroke-width="0.8"/>
<path d="M548.5 10.3l2.5-.8 2.5.6 2.5-1.2 2-.2 2-1" stroke="#c02a1a" stroke-width="1.1" fill="none"/><path d="M548.5 15.5l2.5-1.3 2 .8 2.5-1.8 2 1.4 2-.6" stroke="#1a9a2a" stroke-width="1.1" fill="none"/>
<polygon points="569,10 574.5,10 571.75,13.2" fill="#000"/>
<rect x="580" y="1" width="1" height="20" fill="#a0a0a0" shape-rendering="crispEdges"/><rect x="581" y="1" width="1" height="20" fill="#fafafa" shape-rendering="crispEdges"/>
<rect x="584" y="2" width="3" height="1" fill="#a8a8a8" shape-rendering="crispEdges"/>
<rect x="584" y="4" width="3" height="1" fill="#a8a8a8" shape-rendering="crispEdges"/>
<rect x="584" y="6" width="3" height="1" fill="#a8a8a8" shape-rendering="crispEdges"/>
<rect x="584" y="8" width="3" height="1" fill="#a8a8a8" shape-rendering="crispEdges"/>
<rect x="584" y="10" width="3" height="1" fill="#a8a8a8" shape-rendering="crispEdges"/>
<rect x="584" y="12" width="3" height="1" fill="#a8a8a8" shape-rendering="crispEdges"/>
<rect x="584" y="14" width="3" height="1" fill="#a8a8a8" shape-rendering="crispEdges"/>
<rect x="584" y="16" width="3" height="1" fill="#a8a8a8" shape-rendering="crispEdges"/>
<rect x="584" y="18" width="3" height="1" fill="#a8a8a8" shape-rendering="crispEdges"/>
<rect x="590" y="1" width="1" height="20" fill="#a0a0a0" shape-rendering="crispEdges"/><rect x="591" y="1" width="1" height="20" fill="#fafafa" shape-rendering="crispEdges"/>
<rect x="592" y="1" width="23" height="20" fill="#f9f9f9" shape-rendering="crispEdges"/>
<path d="M598.3 3.6V15.2L601 12.6L603.2 17.6L605 16.8L602.9 11.9H606.6z" fill="#404040"/>
<path d="M623 11.5H629 M632 11.5H638 M630.5 4V10 M630.5 13V19" stroke="#404040" stroke-width="1.1"/>
<rect x="647" y="1" width="1" height="20" fill="#a0a0a0" shape-rendering="crispEdges"/><rect x="648" y="1" width="1" height="20" fill="#fafafa" shape-rendering="crispEdges"/>
<path d="M664.4 5V17.7" stroke="#404040" stroke-width="1.4"/><path d="M687 11.4H699" stroke="#404040" stroke-width="1.3"/><path d="M715 17.7L727 5.7" stroke="#404040" stroke-width="1.3"/>
<path d="M741 16L752.5 5 M743.5 19L755 8.5 M744 10.5l3 6 M747 8l3 6 M750 5.5l3 6" stroke="#404040" stroke-width="1.1"/>
<text x="751.6" y="19.6" font-family="Liberation Sans, sans-serif" font-size="6.4" font-weight="bold" fill="#303030">E</text>
<path d="M769.5 4.6H783.5" stroke="#404040" stroke-width="1" stroke-dasharray="1 1"/>
<path d="M769.5 7.8H783.5" stroke="#404040" stroke-width="1" stroke-dasharray="1 1"/>
<path d="M769.5 11.4H783.5" stroke="#404040" stroke-width="1" stroke-dasharray="1 1"/>
<path d="M769.5 15.4H778.5" stroke="#404040" stroke-width="1" stroke-dasharray="1 1"/>
<text x="779.4" y="19.6" font-family="Liberation Sans, sans-serif" font-size="6.4" font-weight="bold" fill="#303030">F</text>
<text x="800.2" y="15.8" font-family="Liberation Sans, sans-serif" font-size="12.4" fill="#555" textLength="8.8" lengthAdjust="spacingAndGlyphs">A</text>
<rect x="827.5" y="5.3" width="11" height="12.2" fill="none" stroke="#505050" stroke-width="0.9" stroke-dasharray="1 1"/><path d="M829 7.2H837 M833 7.2V16" stroke="#505050" stroke-width="1.5"/>
<polygon points="854,8.2 857.5,4.8 861,8.2 857.5,9.6" fill="#404040"/><polygon points="861,14.5 864.5,17.8 868,14.5 864.5,13" fill="#404040"/><path d="M857 11l2 2.4 3.6-4" stroke="#404040" stroke-width="1.1" fill="none"/>
<polygon points="875,10 880.5,10 877.75,13.2" fill="#000"/>
<rect x="886" y="1" width="1" height="20" fill="#a0a0a0" shape-rendering="crispEdges"/><rect x="887" y="1" width="1" height="20" fill="#fafafa" shape-rendering="crispEdges"/>
<rect x="890" y="2" width="3" height="1" fill="#a8a8a8" shape-rendering="crispEdges"/>
<rect x="890" y="4" width="3" height="1" fill="#a8a8a8" shape-rendering="crispEdges"/>
<rect x="890" y="6" width="3" height="1" fill="#a8a8a8" shape-rendering="crispEdges"/>
<rect x="890" y="8" width="3" height="1" fill="#a8a8a8" shape-rendering="crispEdges"/>
<rect x="890" y="10" width="3" height="1" fill="#a8a8a8" shape-rendering="crispEdges"/>
<rect x="890" y="12" width="3" height="1" fill="#a8a8a8" shape-rendering="crispEdges"/>
<rect x="890" y="14" width="3" height="1" fill="#a8a8a8" shape-rendering="crispEdges"/>
<rect x="890" y="16" width="3" height="1" fill="#a8a8a8" shape-rendering="crispEdges"/>
<rect x="890" y="18" width="3" height="1" fill="#a8a8a8" shape-rendering="crispEdges"/>
<rect x="1036" y="1" width="1" height="20" fill="#a0a0a0" shape-rendering="crispEdges"/><rect x="1037" y="1" width="1" height="20" fill="#fafafa" shape-rendering="crispEdges"/>
<rect x="1037" y="1" width="24" height="20" fill="#f9f9f9" shape-rendering="crispEdges"/>
<text x="901.8" y="14.800" font-family="Liberation Sans, sans-serif" font-size="9.6" fill="#3c3c3c" textLength="12.0" lengthAdjust="spacingAndGlyphs">M1</text>
<text x="929.6" y="14.800" font-family="Liberation Sans, sans-serif" font-size="9.6" fill="#3c3c3c" textLength="12.0" lengthAdjust="spacingAndGlyphs">M5</text>
<text x="955.8" y="14.800" font-family="Liberation Sans, sans-serif" font-size="9.6" fill="#3c3c3c" textLength="17.2" lengthAdjust="spacingAndGlyphs">M15</text>
<text x="983.6" y="14.800" font-family="Liberation Sans, sans-serif" font-size="9.6" fill="#3c3c3c" textLength="17.4" lengthAdjust="spacingAndGlyphs">M30</text>
<text x="1014.8" y="14.800" font-family="Liberation Sans, sans-serif" font-size="9.6" fill="#3c3c3c" textLength="11.2" lengthAdjust="spacingAndGlyphs">H1</text>
<text x="1041.7" y="14.800" font-family="Liberation Sans, sans-serif" font-size="9.6" fill="#3c3c3c" textLength="12.3" lengthAdjust="spacingAndGlyphs">H4</text>
<text x="1070.8" y="14.800" font-family="Liberation Sans, sans-serif" font-size="9.6" fill="#3c3c3c" textLength="11.2" lengthAdjust="spacingAndGlyphs">D1</text>
<text x="1098" y="14.800" font-family="Liberation Sans, sans-serif" font-size="9.6" fill="#3c3c3c" textLength="14.0" lengthAdjust="spacingAndGlyphs">W1</text>
<text x="1124.7" y="14.800" font-family="Liberation Sans, sans-serif" font-size="9.6" fill="#3c3c3c" textLength="14.3" lengthAdjust="spacingAndGlyphs">MN</text>
<rect x="1147" y="0" width="1" height="23" fill="#a0a0a0" shape-rendering="crispEdges"/><rect x="1148" y="0" width="1" height="23" fill="#fafafa" shape-rendering="crispEdges"/>
<path d="M1614.4 11.8L1610.6 15.6" stroke="#2a62d8" stroke-width="2.6" stroke-linecap="round"/><circle cx="1617.6" cy="8.4" r="3.9" fill="#fbfbff" stroke="#2a62d8" stroke-width="1.4"/>
<path d="M1650.2 3.2c3.6 0 6.5 2.1 6.5 4.8c0 1.9-1.4 3.5-3.5 4.3l.6 2.4l-2.6-1.9c-.3 0-.7.1-1 .1c-3.6 0-6.5-2.2-6.5-4.9s2.900-4.800 6.5-4.800z" fill="#f6f6fa" stroke="#9a9a9a" stroke-width="0.9"/>
<path d="M1641.3 8.200c2.900 0 5.200 1.700 5.200 3.900s-2.300 3.900-5.200 3.900c-.5 0-.9 0-1.400-.1l-2.200 1.800l.4-2.500c-1.200-.7-2-1.800-2-3.100c0-2.200 2.300-3.900 5.200-3.900z" fill="#f4f4f8" stroke="#8a8a8a" stroke-width="0.9"/>
</g>
<g shape-rendering="auto">
<path d="M0 47.5H50.5V71.5H107.5V110.5H0z" fill="url(#sellg)" stroke="#c00000" stroke-width="1"/>
<path d="M110.5 71.500H166.500V47.500H217.500V110.500H110.500z" fill="url(#sellg)" stroke="#c00000" stroke-width="1"/>
<rect x="3" y="70" width="44" height="1" fill="#a30000" shape-rendering="crispEdges"/><rect x="3" y="71" width="44" height="1" fill="#f26a6a" shape-rendering="crispEdges"/>
<rect x="170" y="70" width="44" height="1" fill="#a30000" shape-rendering="crispEdges"/><rect x="170" y="71" width="44" height="1" fill="#f26a6a" shape-rendering="crispEdges"/>
<text x="11.1" y="63.1" font-size="12" font-family="Liberation Sans, sans-serif" fill="#fff" textLength="26" lengthAdjust="spacingAndGlyphs">SELL</text>
<text x="179.7" y="63.1" font-size="12" font-family="Liberation Sans, sans-serif" fill="#fff" textLength="22.8" lengthAdjust="spacingAndGlyphs">BUY</text>
<text x="22.2" y="102" font-size="12" font-weight="bold" font-family="Liberation Sans, sans-serif" fill="#fff" textLength="20.6" lengthAdjust="spacingAndGlyphs">141</text>
<text x="47.2" y="102.2" font-size="35" font-family="Liberation Sans, sans-serif" fill="#fff" textLength="33" lengthAdjust="spacingAndGlyphs">25</text>
<text x="85.800" y="85.200" font-size="11.8" font-weight="bold" font-family="Liberation Sans, sans-serif" fill="#fff">4</text>
<text x="132.4" y="102" font-size="12" font-weight="bold" font-family="Liberation Sans, sans-serif" fill="#fff" textLength="20.6" lengthAdjust="spacingAndGlyphs">141</text>
<text x="158" y="102.2" font-size="35" font-family="Liberation Sans, sans-serif" fill="#fff" textLength="33.4" lengthAdjust="spacingAndGlyphs">29</text>
<text x="197.3" y="85.200" font-size="11.8" font-weight="bold" font-family="Liberation Sans, sans-serif" fill="#fff">4</text>
<rect x="53.5" y="47.5" width="110" height="21" fill="#fff" stroke="#a9adb5" stroke-width="1"/>
<rect x="55" y="49" width="19" height="18" fill="url(#btn)"/><rect x="74" y="48" width="1" height="20" fill="#a9adb5"/>
<rect x="143" y="49" width="19" height="18" fill="url(#btn)"/><rect x="142" y="48" width="1" height="20" fill="#a9adb5"/>
<polygon points="61,56.200 66,56.200 63.500,59.200" fill="#4a5ec8"/><polygon points="150,59.200 155,59.200 152.500,56.200" fill="#4a5ec8"/>
<text x="138" y="61.800" text-anchor="end" font-family="Liberation Sans, sans-serif" font-size="12" fill="#000">1.00</text>
</g>
</svg>
<!--PANEL-->
</body></html>
